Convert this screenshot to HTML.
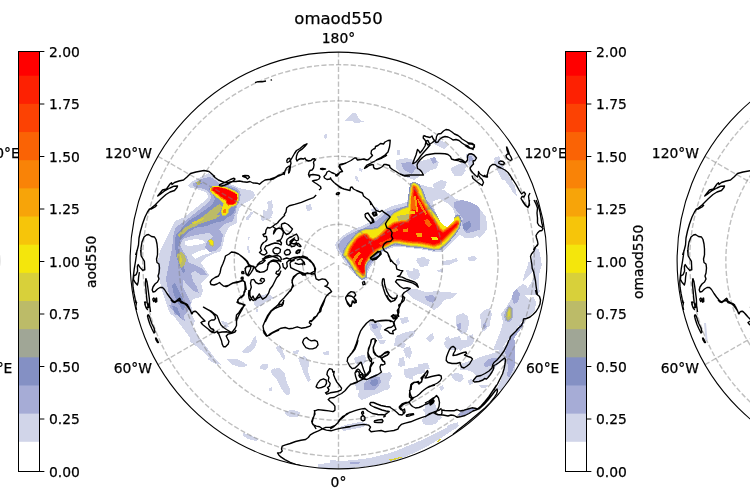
<!DOCTYPE html>
<html><head><meta charset="utf-8"><title>omaod550</title>
<style>
html,body{margin:0;padding:0;background:#fff;}
body{width:750px;height:500px;overflow:hidden;}
svg{display:block;}
.t10{font-family:"DejaVu Sans","Liberation Sans",sans-serif;font-size:13.89px;fill:#000;stroke:#000;stroke-width:0.25px;}
.t12{font-family:"DejaVu Sans","Liberation Sans",sans-serif;font-size:16.5px;fill:#000;stroke:#000;stroke-width:0.25px;}
</style></head><body>
<svg width="750" height="500" viewBox="0 0 750 500">
<rect width="750" height="500" fill="#fff"/>
<circle cx="-208.85" cy="260.5" r="208.4" fill="none" stroke="#000" stroke-width="1.11"/>
<text x="-22.5" y="158" class="t10">120°E</text>
<text x="-21.0" y="372.5" class="t10">60°E</text>
<text x="-395.0" y="158" text-anchor="end" class="t10">120°W</text>
<text x="-395.0" y="372.5" text-anchor="end" class="t10">60°W</text>
<text x="524.5" y="158" class="t10">120°E</text>
<text x="526" y="372.5" class="t10">60°E</text>
<text x="152" y="158" text-anchor="end" class="t10">120°W</text>
<text x="152" y="372.5" text-anchor="end" class="t10">60°W</text>
<text x="1071.5" y="158" class="t10">120°E</text>
<text x="1073.0" y="372.5" class="t10">60°E</text>
<text x="699.0" y="158" text-anchor="end" class="t10">120°W</text>
<text x="699.0" y="372.5" text-anchor="end" class="t10">60°W</text>
<text x="338.5" y="43.2" text-anchor="middle" class="t10">180°</text>
<text x="338.5" y="486.6" text-anchor="middle" class="t10">0°</text>
<text x="338.5" y="24" text-anchor="middle" class="t12">omaod550</text>
<clipPath id="clip0"><circle cx="338.5" cy="260.5" r="208.4"/></clipPath>
<g clip-path="url(#clip0)">
<g transform="translate(0,0)" shape-rendering="crispEdges">
<path d="M188.4,185.5 L192.4,181.4 L197.8,178.8 L203.2,176.1 L208.5,173.4 L212.5,174.7 L216.6,178.8 L220.6,182.8 L228.6,183.5 L234.0,185.5 L239.3,188.2 L246.0,189.5 L252.7,190.8 L255.4,194.9 L252.7,198.9 L247.4,201.6 L243.4,204.2 L239.3,208.3 L238.0,213.6 L234.0,217.6 L228.6,220.3 L223.3,223.0 L217.9,227.0 L175.0,227.0 L180.4,220.3 L187.1,215.0 L193.8,209.6 L200.5,204.2 L205.8,200.2 L208.5,196.2 L205.8,192.2 L200.5,190.2 L195.1,188.8 L189.7,187.5Z" fill="#d1d5e9"/>
<path d="M175.0,221.0 L185.0,217.0 L197.0,215.0 L237.0,215.0 L237.0,223.0 L229.0,227.0 L225.0,235.0 L223.0,245.0 L221.0,251.0 L215.0,253.0 L211.0,255.0 L205.0,258.0 L201.0,263.0 L205.0,269.0 L209.0,275.0 L205.0,279.0 L201.0,283.0 L203.0,291.0 L201.0,297.0 L193.0,299.0 L191.0,305.0 L193.0,311.0 L191.0,315.0 L171.0,315.0 L168.0,309.0 L165.0,299.0 L162.0,291.0 L160.0,281.0 L158.0,271.0 L158.0,261.0 L160.0,251.0 L164.0,243.0 L168.0,235.0 L172.0,227.0Z" fill="#d1d5e9"/>
<path d="M167.0,305.0 L185.0,305.0 L191.0,313.0 L195.0,321.0 L193.0,327.0 L199.0,337.0 L205.0,345.0 L211.0,353.0 L217.0,361.0 L221.0,365.0 L215.0,363.0 L209.0,358.0 L203.0,350.0 L197.0,345.0 L191.0,339.0 L185.0,331.0 L179.0,323.0 L173.0,315.0 L169.0,310.0Z" fill="#d1d5e9"/>
<path d="M243.0,351.0 L247.0,347.0 L253.0,341.0 L256.0,337.0 L257.0,342.0 L254.0,348.0 L248.0,353.0 L243.0,353.0Z" fill="#d1d5e9"/>
<path d="M227.0,359.0 L237.0,359.0 L245.0,363.0 L247.0,366.0 L239.0,367.0 L231.0,364.0Z" fill="#d1d5e9"/>
<path d="M260.0,366.0 L265.0,364.0 L269.0,367.0 L265.0,370.0 L261.0,369.0Z" fill="#d1d5e9"/>
<path d="M221.0,321.0 L227.0,322.0 L229.0,327.0 L225.0,328.0Z" fill="#d1d5e9"/>
<path d="M344.0,121.5 L348.0,118.0 L352.0,113.0 L356.0,112.5 L357.5,116.0 L360.0,120.0 L364.0,121.5 L360.0,122.5 L355.0,123.0 L351.0,120.5 L347.0,121.0Z" fill="#d1d5e9"/>
<path d="M397.0,149.5 L400.5,150.0 L400.0,155.0 L397.5,155.0Z" fill="#d1d5e9"/>
<path d="M324.0,135.0 L326.6,134.0 L326.6,138.0 L324.6,139.0Z" fill="#d1d5e9"/>
<path d="M417.0,162.0 L425.0,160.0 L433.0,158.0 L439.0,162.0 L437.0,168.0 L431.0,170.0 L425.0,174.0 L419.0,172.0Z" fill="#d1d5e9"/>
<path d="M451.0,168.0 L459.0,164.0 L465.0,162.0 L467.0,166.0 L463.0,171.0 L457.0,174.0 L452.0,173.0Z" fill="#d1d5e9"/>
<path d="M433.0,184.0 L441.0,180.0 L447.0,182.0 L445.0,188.0 L439.0,190.0 L434.0,189.0Z" fill="#d1d5e9"/>
<path d="M449.0,210.0 L455.0,206.0 L461.0,202.0 L469.0,204.0 L477.0,210.0 L482.0,218.0 L484.0,226.0 L481.0,234.0 L473.0,238.0 L465.0,238.0 L459.0,234.0 L461.0,226.0 L459.0,218.0 L453.0,216.0Z" fill="#d1d5e9"/>
<path d="M433.0,198.0 L441.0,196.0 L447.0,200.0 L443.0,205.0 L435.0,204.0Z" fill="#d1d5e9"/>
<path d="M497.0,158.0 L503.0,168.0 L509.0,176.0 L515.0,186.0 L517.0,196.0 L514.0,194.0 L509.0,186.0 L503.0,178.0 L498.0,170.0 L494.0,162.0Z" fill="#d1d5e9"/>
<path d="M433.0,141.0 L439.0,139.0 L444.0,142.0 L448.0,146.0 L444.0,149.0 L438.0,146.0 L434.0,144.0Z" fill="#d1d5e9"/>
<path d="M396.0,160.0 L406.0,158.0 L414.0,160.0 L420.0,166.0 L420.0,176.0 L414.0,180.0 L402.0,176.0 L396.0,168.0Z" fill="#d1d5e9"/>
<path d="M466.0,154.0 L472.0,153.0 L476.0,157.0 L474.0,164.0 L470.0,168.0 L467.0,162.0Z" fill="#d1d5e9"/>
<path d="M452.0,168.0 L460.0,166.0 L466.0,170.0 L462.0,176.0 L454.0,176.0Z" fill="#d1d5e9"/>
<path d="M494.0,158.0 L499.0,156.0 L502.0,164.0 L506.0,172.0 L510.0,180.0 L502.0,180.0 L497.0,170.0Z" fill="#d1d5e9"/>
<path d="M535.0,248.0 L539.0,249.0 L540.5,257.0 L541.8,265.0 L540.0,271.0 L538.5,278.0 L539.0,287.0 L540.0,292.0 L535.0,295.0 L517.0,295.0 L519.0,290.0 L525.0,285.0 L527.0,289.0 L531.0,283.0 L534.0,277.0 L532.5,272.0 L529.5,275.0 L525.0,279.0 L523.0,281.0 L524.0,275.0 L527.0,268.0 L528.5,262.0 L531.0,261.0 L533.0,255.0Z" fill="#d1d5e9"/>
<path d="M501.0,314.0 L507.0,306.0 L513.0,296.0 L517.0,288.0 L523.0,284.0 L527.0,286.0 L525.0,296.0 L529.0,300.0 L533.0,296.0 L536.0,302.0 L535.0,310.0 L529.0,316.0 L523.0,320.0 L517.0,328.0 L511.0,336.0 L505.0,344.0 L501.0,350.0 L493.0,350.0 L497.0,340.0 L501.0,330.0 L503.0,322.0Z" fill="#d1d5e9"/>
<path d="M480.0,314.0 L485.0,310.0 L490.0,308.0 L492.0,314.0 L490.0,322.0 L486.0,330.0 L482.0,332.0 L481.0,324.0Z" fill="#d1d5e9"/>
<path d="M456.0,316.0 L463.0,314.0 L468.0,316.0 L469.0,324.0 L467.0,332.0 L462.0,334.0 L458.0,330.0 L456.6,323.0Z" fill="#d1d5e9"/>
<path d="M425.0,293.0 L435.0,291.0 L445.0,292.0 L457.0,293.0 L453.0,298.0 L443.0,300.0 L439.0,306.0 L431.0,307.0 L427.0,302.0 L423.0,298.0Z" fill="#d1d5e9"/>
<path d="M417.0,258.0 L425.0,257.0 L427.0,262.0 L421.0,264.0 L417.0,262.0Z" fill="#d1d5e9"/>
<path d="M413.0,268.0 L419.0,270.0 L420.0,276.0 L415.0,280.0 L413.0,278.0Z" fill="#d1d5e9"/>
<path d="M437.0,270.0 L443.0,269.0 L443.0,272.0 L438.0,272.4Z" fill="#d1d5e9"/>
<path d="M447.0,261.0 L457.0,258.0 L458.0,261.0 L449.0,264.0Z" fill="#d1d5e9"/>
<path d="M445.0,338.0 L449.0,336.0 L451.0,342.0 L447.0,344.0Z" fill="#d1d5e9"/>
<path d="M428.0,336.0 L433.0,333.0 L434.0,338.0 L430.0,342.0Z" fill="#d1d5e9"/>
<path d="M467.0,336.0 L473.0,334.0 L474.0,342.0 L469.0,344.0Z" fill="#d1d5e9"/>
<path d="M444.0,343.0 L450.0,341.0 L458.0,340.0 L470.0,340.0 L473.0,343.0 L470.0,346.0 L464.0,348.0 L460.0,351.0 L455.0,346.0 L450.0,345.0 L446.0,346.0Z" fill="#d1d5e9"/>
<path d="M465.0,368.0 L470.0,364.0 L474.0,360.0 L480.0,357.0 L487.0,355.0 L494.0,353.0 L500.0,350.0 L505.0,346.0 L509.0,340.0 L515.0,340.0 L515.0,370.0 L510.0,378.0 L506.0,385.0 L502.0,390.0 L496.0,390.0 L500.0,382.0 L504.0,372.0 L505.0,362.0 L502.0,361.0 L497.0,365.0 L494.0,370.0 L490.0,375.0 L484.0,380.0 L478.0,382.0 L473.0,380.0 L476.0,376.0 L473.0,372.0 L468.0,371.0Z" fill="#d1d5e9"/>
<path d="M451.0,374.0 L456.0,373.0 L462.0,374.0 L464.0,379.0 L460.0,382.0 L455.0,381.0 L452.0,378.0Z" fill="#d1d5e9"/>
<path d="M468.0,380.0 L472.0,379.0 L473.0,384.0 L469.0,385.0Z" fill="#d1d5e9"/>
<path d="M425.0,404.0 L431.0,401.0 L435.0,403.0 L437.0,410.0 L435.0,415.0 L440.0,418.0 L437.0,423.0 L431.0,425.0 L425.0,425.0Z" fill="#d1d5e9"/>
<path d="M439.0,387.0 L443.0,385.0 L444.0,389.0 L441.0,391.0Z" fill="#d1d5e9"/>
<path d="M479.0,385.0 L489.0,385.0 L485.0,388.0 L481.0,388.0Z" fill="#d1d5e9"/>
<path d="M448.0,425.0 L455.0,423.0 L459.0,425.0 L455.0,429.0 L450.0,432.0 L445.0,433.0Z" fill="#d1d5e9"/>
<path d="M406.0,288.0 L416.0,289.0 L426.0,292.0 L436.0,293.0 L448.0,293.0 L457.0,294.0 L452.0,298.0 L444.0,300.0 L440.0,306.0 L434.0,310.0 L428.0,306.0 L420.0,302.0 L412.0,298.0 L407.0,293.0Z" fill="#d1d5e9"/>
<path d="M406.0,270.0 L416.0,272.0 L419.0,278.0 L414.0,280.0 L408.0,277.0Z" fill="#d1d5e9"/>
<path d="M369.0,322.0 L378.0,321.0 L382.0,326.0 L380.0,332.0 L383.0,338.0 L378.0,340.0 L374.0,334.0 L370.0,329.0Z" fill="#d1d5e9"/>
<path d="M400.0,318.0 L408.0,317.0 L409.0,322.0 L402.0,324.0Z" fill="#d1d5e9"/>
<path d="M396.0,336.0 L406.0,332.0 L416.0,330.0 L414.0,336.0 L406.0,340.0 L400.0,346.0 L394.0,346.0Z" fill="#d1d5e9"/>
<path d="M457.0,315.0 L464.0,313.0 L468.0,318.0 L467.0,328.0 L462.0,334.0 L457.0,330.0 L456.0,322.0Z" fill="#d1d5e9"/>
<path d="M444.0,342.0 L452.0,338.0 L460.0,336.0 L462.0,344.0 L458.0,350.0 L450.0,350.0 L445.0,347.0Z" fill="#d1d5e9"/>
<path d="M426.0,338.0 L432.0,334.0 L434.0,337.0 L429.0,342.0Z" fill="#d1d5e9"/>
<path d="M404.0,348.0 L410.0,346.0 L411.0,356.0 L406.0,358.0Z" fill="#d1d5e9"/>
<path d="M468.0,336.0 L472.0,338.0 L470.0,343.0 L467.0,341.0Z" fill="#d1d5e9"/>
<path d="M480.0,318.0 L486.0,310.0 L490.0,308.0 L490.0,326.0 L484.0,328.0Z" fill="#d1d5e9"/>
<path d="M399.0,359.0 L404.0,358.0 L405.0,366.0 L400.0,366.0Z" fill="#d1d5e9"/>
<path d="M460.0,364.0 L472.0,360.0 L484.0,358.0 L490.0,360.0 L490.0,370.0 L460.0,370.0Z" fill="#d1d5e9"/>
<path d="M354.0,358.0 L362.0,355.0 L366.0,358.0 L362.0,364.0 L356.0,364.0Z" fill="#d1d5e9"/>
<path d="M418.0,364.0 L428.0,363.0 L430.0,369.0 L420.0,370.0Z" fill="#d1d5e9"/>
<path d="M354.0,385.0 L361.0,380.0 L369.0,378.0 L377.0,374.0 L385.0,373.0 L391.0,374.0 L389.0,382.0 L385.0,390.0 L379.0,393.0 L373.0,395.0 L367.0,398.0 L361.0,400.0 L358.0,396.0 L359.0,390.0Z" fill="#d1d5e9"/>
<path d="M359.0,358.0 L365.0,356.0 L367.0,361.0 L362.0,365.0 L358.0,362.0Z" fill="#d1d5e9"/>
<path d="M298.0,358.0 L305.0,356.0 L309.0,362.0 L308.0,372.0 L311.0,380.0 L308.0,382.0 L304.0,374.0 L301.0,366.0Z" fill="#d1d5e9"/>
<path d="M272.0,369.0 L279.0,368.0 L285.0,374.0 L287.0,384.0 L290.0,392.0 L286.0,395.0 L281.0,388.0 L277.0,380.0 L273.0,374.0Z" fill="#d1d5e9"/>
<path d="M279.0,350.0 L283.0,350.0 L284.0,356.0 L281.0,357.0Z" fill="#d1d5e9"/>
<path d="M293.0,351.0 L299.0,350.0 L298.0,354.0 L294.0,354.0Z" fill="#d1d5e9"/>
<path d="M263.0,364.0 L268.0,365.0 L267.0,369.0 L263.0,369.0Z" fill="#d1d5e9"/>
<path d="M269.0,388.0 L272.0,387.0 L272.0,391.0 L269.0,391.0Z" fill="#d1d5e9"/>
<path d="M285.0,411.0 L293.0,410.0 L300.0,412.0 L298.0,416.0 L290.0,416.0Z" fill="#d1d5e9"/>
<path d="M339.0,427.0 L349.0,424.0 L359.0,422.0 L367.0,423.0 L363.0,427.0 L353.0,429.0 L343.0,431.0Z" fill="#d1d5e9"/>
<path d="M399.0,358.0 L404.0,357.0 L405.0,365.0 L401.0,367.0Z" fill="#d1d5e9"/>
<path d="M405.0,370.0 L413.0,368.0 L413.0,380.0 L407.0,378.0Z" fill="#d1d5e9"/>
<path d="M323.0,352.0 L329.0,351.0 L329.0,355.0 L324.0,355.0Z" fill="#d1d5e9"/>
<path d="M330.0,460.0 L342.0,461.0 L354.0,460.0 L370.0,458.0 L386.0,454.0 L398.0,450.0 L410.0,445.0 L422.0,440.0 L434.0,434.0 L446.0,428.0 L458.0,422.0 L458.0,425.0 L450.0,432.0 L438.0,440.0 L426.0,447.0 L414.0,453.0 L400.0,459.0 L386.0,463.0 L370.0,466.0 L350.0,468.0 L330.0,468.0Z" fill="#d1d5e9"/>
<path d="M422.0,419.0 L430.0,415.0 L438.0,414.0 L442.0,418.0 L436.0,422.0 L428.0,425.0 L423.0,424.0Z" fill="#d1d5e9"/>
<path d="M422.0,410.0 L430.0,406.0 L432.0,410.0 L426.0,413.0Z" fill="#d1d5e9"/>
<path d="M318.0,464.0 L330.0,463.0 L330.0,468.0 L318.0,467.6Z" fill="#d1d5e9"/>
<path d="M285.0,411.0 L292.0,410.0 L300.0,413.0 L298.0,417.0 L290.0,417.0 L285.0,414.0Z" fill="#d1d5e9"/>
<path d="M243.0,433.0 L250.0,435.0 L258.0,439.0 L256.0,441.0 L248.0,439.0 L243.6,436.0Z" fill="#d1d5e9"/>
<path d="M278.0,380.0 L286.0,380.0 L290.0,390.0 L289.0,395.0 L285.0,394.0 L282.0,386.0Z" fill="#d1d5e9"/>
<path d="M253.8,301.9 L257.2,297.9 L261.9,295.2 L267.9,293.9 L274.6,297.9 L270.6,299.9 L265.2,301.9 L261.2,305.9 L256.5,307.3 L254.5,305.3Z" fill="#d1d5e9"/>
<path d="M255.8,309.3 L257.8,308.6 L258.2,312.0 L256.1,312.4Z" fill="#d1d5e9"/>
<path d="M242.3,351.4 L246.3,347.4 L251.0,343.4 L253.7,338.0 L255.7,336.0 L256.4,340.7 L255.7,346.1 L253.0,350.1 L247.6,353.5 L243.6,353.1Z" fill="#d1d5e9"/>
<path d="M226.2,359.2 L231.6,358.8 L238.3,359.5 L243.6,362.2 L247.0,364.9 L243.6,367.3 L238.3,366.9 L232.9,363.5 L228.9,360.8Z" fill="#d1d5e9"/>
<path d="M259.7,366.2 L263.1,363.5 L267.7,364.2 L268.4,367.5 L264.4,369.5 L260.4,368.9Z" fill="#d1d5e9"/>
<path d="M190.0,338.0 L194.0,340.7 L200.7,346.1 L207.4,351.4 L210.1,355.5 L206.1,354.1 L199.4,348.8 L192.7,343.4 L190.0,341.4Z" fill="#d1d5e9"/>
<path d="M207.4,357.5 L211.4,358.8 L216.8,362.2 L220.8,364.2 L216.8,364.6 L211.4,361.5 L208.1,359.5Z" fill="#d1d5e9"/>
<path d="M275.8,347.4 L279.8,344.7 L282.5,350.1 L285.2,356.8 L283.8,360.8 L281.2,355.5 L277.8,351.4Z" fill="#d1d5e9"/>
<path d="M271.1,370.2 L274.5,368.2 L278.5,371.6 L282.5,376.9 L286.5,383.6 L289.9,389.0 L289.9,394.3 L285.2,390.3 L281.2,383.6 L275.8,378.3 L271.8,374.2Z" fill="#d1d5e9"/>
<path d="M269.1,388.3 L271.1,387.6 L271.5,391.0 L269.8,391.7Z" fill="#d1d5e9"/>
<path d="M261.2,216.4 L265.2,213.8 L267.9,208.4 L269.2,201.7 L271.2,200.4 L272.6,204.4 L271.9,209.7 L273.3,213.1 L270.6,217.1 L266.6,219.8 L262.5,221.1 L260.5,219.8Z" fill="#d1d5e9"/>
<path d="M245.1,219.1 L250.5,212.4 L253.8,211.1 L251.8,215.1 L247.8,220.5Z" fill="#d1d5e9"/>
<path d="M306.1,205.1 L310.8,204.4 L312.1,208.4 L308.8,211.8 L306.5,209.1Z" fill="#d1d5e9"/>
<path d="M247.1,237.9 L249.8,236.6 L249.1,240.6Z" fill="#d1d5e9"/>
<path d="M247.1,246.6 L249.1,245.9 L249.8,252.6 L247.8,252.6Z" fill="#d1d5e9"/>
<path d="M267.0,202.0 L272.0,200.0 L273.0,208.0 L269.0,210.0Z" fill="#d1d5e9"/>
<path d="M306.0,205.0 L311.0,204.0 L312.0,210.0 L307.0,211.0Z" fill="#d1d5e9"/>
<path d="M263.0,210.0 L269.0,212.0 L272.0,218.0 L267.0,219.0 L263.0,216.0Z" fill="#d1d5e9"/>
<path d="M359.0,168.0 L363.0,169.0 L362.0,172.0 L359.0,171.0Z" fill="#d1d5e9"/>
<path d="M355.0,176.0 L358.0,177.0 L359.0,182.0 L356.0,181.0Z" fill="#d1d5e9"/>
<path d="M356.0,360.0 L361.0,356.0 L365.0,355.0 L366.0,360.0 L362.0,363.0 L357.0,364.0Z" fill="#d1d5e9"/>
<path d="M378.0,340.0 L386.0,340.0 L384.0,344.0 L380.0,344.0Z" fill="#d1d5e9"/>
<path d="M394.0,344.0 L402.0,341.0 L406.0,344.0 L404.0,348.0 L398.0,347.0Z" fill="#d1d5e9"/>
<path d="M403.0,350.0 L410.0,346.0 L412.0,352.0 L410.0,359.0 L407.0,357.0Z" fill="#d1d5e9"/>
<path d="M399.0,360.0 L403.0,358.0 L404.0,362.0 L401.0,367.0 L398.0,366.0Z" fill="#d1d5e9"/>
<path d="M404.5,369.0 L412.0,368.0 L420.0,366.0 L425.0,367.0 L425.0,373.0 L418.0,374.0 L412.0,377.0 L406.0,378.0 L404.0,374.0Z" fill="#d1d5e9"/>
<path d="M355.0,382.0 L363.0,380.0 L370.0,377.0 L376.0,374.0 L383.0,374.0 L390.0,372.0 L392.0,376.0 L389.0,382.0 L390.0,387.0 L388.0,390.0 L356.0,390.0Z" fill="#d1d5e9"/>
<path d="M335.0,245.0 L337.0,250.0 L341.0,256.0 L346.0,264.0 L352.0,272.0 L358.0,278.0 L364.0,281.0 L368.0,279.0 L367.0,274.0 L370.0,268.0 L374.0,262.0 L378.0,256.0 L382.0,252.0 L388.0,249.0 L394.0,247.0 L402.0,247.0 L410.0,248.0 L418.0,249.0 L426.0,250.0 L434.0,252.0 L442.0,252.0 L446.0,248.0 L452.0,242.0 L458.0,236.0 L464.0,232.0 L468.0,235.0 L474.0,233.0 L480.0,238.0 L487.4,229.0 L486.0,217.0 L477.0,205.0 L465.0,202.0 L456.0,199.0 L444.0,190.0 L429.0,187.0 L414.0,182.6 L411.0,190.0 L409.0,194.0 L407.0,202.0 L400.0,204.0 L392.0,206.0 L384.0,210.0 L378.0,216.0 L370.0,222.0 L362.0,226.0 L352.0,230.0 L344.0,235.0 L338.0,240.0 L335.0,245.0Z" fill="#d1d5e9"/>
<path d="M416.0,260.0 L424.0,258.0 L430.0,260.0 L428.0,266.0 L420.0,267.0Z" fill="#d1d5e9"/>
<path d="M396.0,260.0 L399.0,258.0 L400.0,264.0 L397.0,266.0Z" fill="#d1d5e9"/>
<path d="M442.0,261.0 L450.0,260.0 L453.0,263.0 L448.0,265.6 L442.4,264.4Z" fill="#d1d5e9"/>
<path d="M468.0,257.0 L474.0,256.0 L477.0,259.0 L473.0,261.6 L468.4,260.4Z" fill="#d1d5e9"/>
<path d="M370.0,210.0 L376.0,207.0 L380.0,210.0 L375.0,214.0Z" fill="#d1d5e9"/>
<path d="M185.0,241.0 L195.0,239.0 L203.0,240.0 L205.0,243.0 L197.0,245.0 L189.0,246.0 L185.0,245.0Z" fill="#ffffff"/>
<path d="M191.0,255.0 L199.0,251.0 L207.0,249.0 L213.0,249.0 L211.0,253.0 L203.0,255.0 L195.0,259.0Z" fill="#ffffff"/>
<path d="M192.4,184.1 L197.8,180.8 L204.5,178.1 L209.9,176.8 L215.2,180.1 L219.2,184.1 L228.6,185.5 L235.3,187.5 L239.3,190.2 L240.7,194.9 L239.3,201.6 L236.7,206.9 L235.3,213.6 L231.3,217.0 L225.9,219.0 L220.6,221.7 L215.2,225.7 L212.5,227.0 L179.0,227.0 L184.4,221.7 L191.1,216.3 L197.8,210.9 L204.5,205.6 L209.9,200.9 L211.2,196.2 L208.5,191.5 L203.2,188.8 L196.4,187.5 L193.1,186.1Z" fill="#a6acd6"/>
<path d="M176.0,227.0 L185.0,221.0 L197.0,217.0 L209.0,215.0 L235.0,215.0 L233.0,221.0 L225.0,224.0 L219.0,229.0 L223.0,235.0 L221.0,245.0 L215.0,251.0 L209.0,252.0 L205.0,248.0 L207.0,241.0 L213.0,237.0 L209.0,233.0 L201.0,234.0 L191.0,236.0 L183.0,239.0 L180.0,245.0 L183.0,251.0 L187.0,257.0 L189.0,263.0 L195.0,265.0 L203.0,269.0 L207.0,275.0 L201.0,275.0 L195.0,271.0 L191.0,273.0 L193.0,281.0 L197.0,287.0 L199.0,293.0 L193.0,291.0 L187.0,285.0 L183.0,279.0 L183.0,287.0 L187.0,295.0 L191.0,303.0 L189.0,309.0 L185.0,315.0 L175.0,315.0 L172.0,307.0 L170.0,299.0 L168.0,289.0 L166.0,279.0 L168.0,269.0 L170.0,259.0 L172.0,249.0 L173.0,239.0 L174.0,232.0Z" fill="#a6acd6"/>
<path d="M169.0,305.0 L179.0,305.0 L183.0,313.0 L185.0,321.0 L181.0,319.0 L175.0,313.0 L171.0,309.0Z" fill="#a6acd6"/>
<path d="M456.0,210.0 L463.0,207.0 L471.0,210.0 L477.0,218.0 L479.0,226.0 L473.0,232.0 L466.0,233.0 L463.0,228.0 L464.0,220.0 L460.0,215.0Z" fill="#a6acd6"/>
<path d="M401.0,163.0 L410.0,162.0 L416.0,168.0 L412.0,174.0 L404.0,170.0Z" fill="#a6acd6"/>
<path d="M468.0,156.0 L472.0,155.6 L473.0,160.0 L469.6,162.0Z" fill="#a6acd6"/>
<path d="M430.0,158.0 L435.0,157.0 L437.0,162.0 L433.0,164.0Z" fill="#a6acd6"/>
<path d="M513.0,292.0 L517.0,289.0 L520.0,294.0 L518.0,302.0 L514.0,304.0 L512.0,298.0Z" fill="#a6acd6"/>
<path d="M507.0,344.0 L513.0,334.0 L519.0,326.0 L522.0,322.0 L525.0,320.0 L523.0,326.0 L517.0,334.0 L512.0,342.0 L508.0,350.0 L504.0,350.0Z" fill="#a6acd6"/>
<path d="M483.0,324.0 L486.0,322.0 L486.6,327.0 L484.0,329.0Z" fill="#a6acd6"/>
<path d="M458.0,324.0 L461.0,323.0 L461.4,329.0 L458.6,329.0Z" fill="#a6acd6"/>
<path d="M425.0,296.0 L432.0,295.0 L435.0,299.0 L431.0,302.4 L426.0,300.0Z" fill="#a6acd6"/>
<path d="M504.0,315.0 L507.0,308.0 L509.4,305.0 L512.6,308.0 L513.4,314.0 L512.0,320.0 L508.6,322.4 L505.0,320.4Z" fill="#a6acd6"/>
<path d="M484.0,363.0 L487.0,360.0 L492.0,358.0 L496.0,357.5 L497.5,359.5 L494.0,363.0 L490.0,366.0 L486.0,367.0 L484.0,365.5Z" fill="#a6acd6"/>
<path d="M505.0,352.0 L510.0,340.0 L515.0,340.0 L515.0,365.0 L512.0,372.0 L509.0,378.0 L507.0,376.0 L508.0,368.0 L507.0,360.0Z" fill="#a6acd6"/>
<path d="M461.0,411.2 L465.0,410.0 L469.0,409.0 L473.0,408.0 L475.5,408.8 L472.0,411.2 L468.0,413.5 L464.0,415.2 L460.0,416.2 L458.0,415.0Z" fill="#a6acd6"/>
<path d="M425.0,296.0 L432.0,295.0 L436.0,299.0 L433.0,303.0 L427.0,301.0Z" fill="#a6acd6"/>
<path d="M371.0,324.0 L377.0,323.6 L378.0,328.0 L373.0,329.0Z" fill="#a6acd6"/>
<path d="M457.0,324.0 L460.0,323.0 L461.0,329.0 L458.0,330.0Z" fill="#a6acd6"/>
<path d="M365.0,382.0 L373.0,378.0 L380.0,377.0 L381.0,382.0 L377.0,387.0 L370.0,389.0 L365.0,387.0Z" fill="#a6acd6"/>
<path d="M350.0,462.0 L360.0,462.0 L358.0,464.4 L350.0,464.4Z" fill="#a6acd6"/>
<path d="M364.0,383.0 L370.0,379.0 L375.0,376.0 L380.0,378.0 L380.0,383.0 L378.0,387.0 L374.0,390.0 L364.0,390.0Z" fill="#a6acd6"/>
<path d="M338.0,245.0 L339.0,249.0 L342.0,254.0 L347.0,262.0 L353.0,270.0 L358.0,276.0 L363.0,279.4 L366.4,278.0 L366.0,273.0 L369.0,267.0 L373.0,261.0 L377.0,255.0 L381.0,251.0 L388.0,247.6 L394.0,245.6 L402.0,245.6 L410.0,246.6 L418.0,247.6 L426.0,248.4 L434.0,250.0 L441.0,250.0 L446.0,245.0 L451.0,239.0 L456.0,232.0 L460.0,225.0 L461.0,218.0 L458.0,214.0 L454.0,216.0 L450.0,220.0 L444.0,222.0 L439.0,216.0 L434.0,210.0 L430.0,204.0 L425.0,198.0 L423.6,191.0 L420.0,185.0 L415.0,182.0 L411.6,183.2 L410.4,188.0 L409.6,196.0 L408.0,205.0 L402.0,207.0 L394.0,209.0 L386.0,212.0 L380.0,218.0 L372.0,224.0 L364.0,228.0 L356.0,231.0 L348.0,235.0 L342.0,239.0 L338.0,245.0Z" fill="#a6acd6"/>
<path d="M454.0,202.0 L462.0,200.0 L470.0,202.0 L478.0,206.0 L480.0,210.0 L480.0,230.0 L473.0,231.0 L468.0,233.0 L464.0,230.0 L462.0,224.0 L463.0,216.0 L458.0,212.0 L454.0,208.0Z" fill="#a6acd6"/>
<path d="M195.1,182.8 L200.5,180.8 L201.8,183.5 L197.8,185.5Z" fill="#8490c4"/>
<path d="M209.2,188.2 L211.9,186.1 L219.2,185.5 L228.6,186.8 L236.7,190.2 L239.1,193.5 L238.7,200.2 L236.0,206.2 L234.0,212.9 L230.0,216.3 L224.6,217.6 L219.2,220.3 L213.9,223.0 L207.2,225.7 L201.8,227.0 L183.0,227.0 L189.7,220.3 L197.8,215.0 L205.8,209.6 L212.5,204.2 L215.2,198.9 L212.5,193.5 L209.2,190.2Z" fill="#8490c4"/>
<path d="M177.0,233.0 L183.0,227.0 L193.0,222.0 L205.0,218.0 L213.0,215.0 L229.0,215.0 L223.0,221.0 L213.0,223.0 L205.0,225.0 L195.0,228.0 L187.0,233.0 L181.0,239.0 L178.0,247.0 L180.0,255.0 L183.0,263.0 L185.0,271.0 L183.0,273.0 L179.0,265.0 L176.0,255.0 L175.0,245.0 L175.4,237.0Z" fill="#8490c4"/>
<path d="M172.0,285.0 L175.0,283.0 L179.0,291.0 L183.0,299.0 L185.0,307.0 L183.0,311.0 L178.0,303.0 L174.0,295.0Z" fill="#8490c4"/>
<path d="M172.0,306.0 L177.0,307.0 L180.0,314.0 L181.0,319.0 L177.0,315.0 L174.0,311.0Z" fill="#8490c4"/>
<path d="M463.0,224.0 L467.0,222.0 L470.0,227.0 L467.0,231.0 L463.4,229.0Z" fill="#8490c4"/>
<path d="M371.0,380.0 L377.0,379.0 L378.0,383.0 L373.0,386.0 L370.0,384.0Z" fill="#8490c4"/>
<path d="M371.0,382.0 L375.0,378.5 L378.5,380.0 L378.0,384.0 L375.0,386.5 L372.0,386.0Z" fill="#8490c4"/>
<path d="M342.3,254.3 L342.2,254.5 L342.2,254.8 L342.2,255.0 L342.2,255.2 L342.2,255.4 L342.3,255.6 L342.4,255.8 L342.5,256.0 L342.6,256.2 L342.7,256.4 L342.8,256.6 L344.8,258.5 L348.2,262.3 L352.1,269.1 L352.2,269.2 L356.2,275.2 L356.3,275.4 L356.4,275.5 L356.6,275.7 L360.6,279.1 L360.7,279.2 L360.9,279.3 L361.1,279.4 L361.3,279.5 L361.5,279.5 L361.7,279.6 L361.9,279.6 L362.1,279.6 L362.3,279.6 L362.5,279.5 L362.7,279.5 L362.9,279.4 L365.9,278.0 L366.1,277.9 L366.3,277.8 L366.5,277.7 L366.6,277.5 L366.7,277.3 L366.9,277.2 L367.0,277.0 L367.0,276.8 L367.1,276.6 L367.2,276.4 L367.2,276.2 L367.2,276.0 L367.2,275.8 L366.6,269.9 L366.6,266.2 L368.8,262.3 L376.4,254.7 L380.2,251.9 L395.3,244.3 L409.6,247.2 L409.9,247.2 L418.7,247.8 L426.6,249.2 L433.6,250.6 L433.8,250.6 L434.0,250.6 L434.2,250.6 L439.2,250.2 L439.4,250.2 L439.6,250.1 L439.8,250.0 L440.0,250.0 L440.2,249.8 L440.4,249.7 L445.4,245.7 L445.6,245.6 L450.6,240.6 L450.7,240.4 L455.7,234.4 L455.8,234.2 L459.8,228.2 L460.0,228.0 L460.1,227.8 L460.1,227.6 L461.7,221.6 L461.8,221.4 L461.8,221.2 L461.8,221.0 L461.8,220.8 L461.8,220.6 L461.7,220.4 L461.6,220.2 L460.0,216.2 L460.0,216.0 L459.8,215.8 L459.7,215.6 L459.6,215.5 L459.4,215.3 L459.3,215.2 L459.1,215.1 L458.9,215.0 L458.7,214.9 L458.5,214.9 L458.3,214.8 L458.1,214.8 L457.8,214.8 L457.6,214.8 L457.4,214.9 L457.2,214.9 L457.0,215.0 L453.0,217.0 L452.8,217.1 L452.6,217.3 L452.4,217.4 L448.6,221.3 L445.2,223.3 L441.5,220.4 L431.8,208.7 L427.9,202.9 L425.1,196.2 L423.1,190.3 L423.0,190.1 L422.9,189.9 L419.9,184.9 L419.8,184.7 L419.6,184.5 L419.5,184.4 L419.3,184.2 L419.1,184.1 L415.1,181.7 L414.9,181.6 L414.8,181.5 L414.5,181.5 L414.3,181.4 L414.1,181.4 L413.9,181.4 L413.7,181.4 L413.5,181.5 L413.3,181.5 L413.1,181.6 L412.9,181.7 L412.7,181.8 L410.7,183.2 L410.6,183.3 L410.4,183.5 L410.3,183.7 L410.1,183.8 L410.0,184.0 L409.9,184.3 L409.9,184.5 L409.8,184.7 L408.8,191.7 L408.8,191.7 L407.8,199.7 L407.0,206.0 L401.3,207.9 L401.0,208.0 L394.0,211.6 L393.8,211.7 L393.7,211.8 L393.5,211.9 L388.5,216.3 L388.4,216.4 L380.6,224.3 L377.1,226.9 L372.8,227.8 L367.0,227.8 L366.8,227.8 L366.6,227.8 L366.4,227.9 L361.4,229.3 L361.2,229.3 L361.0,229.4 L360.9,229.5 L360.7,229.6 L355.7,233.2 L355.6,233.3 L355.4,233.5 L355.3,233.6 L347.3,243.6 L347.1,243.9 L344.1,248.9 L344.0,249.1 L343.9,249.3 L342.3,254.3Z" fill="#8490c4"/>
<path d="M466.0,222.0 L470.0,221.0 L471.6,226.0 L469.0,229.0 L466.0,227.0Z" fill="#8490c4"/>
<path d="M505.4,316.0 L507.0,310.4 L509.0,306.4 L511.4,307.8 L512.4,313.2 L511.4,318.4 L508.6,321.0 L506.2,320.0Z" fill="#a0a696"/>
<path d="M343.0,254.5 L342.9,254.7 L342.9,254.8 L342.9,255.0 L342.9,255.1 L342.9,255.3 L343.0,255.4 L343.0,255.6 L343.1,255.7 L343.2,255.8 L343.2,255.9 L343.3,256.1 L345.3,258.0 L348.8,261.9 L352.7,268.7 L352.8,268.8 L356.8,274.8 L356.8,274.9 L356.9,275.0 L357.0,275.1 L361.0,278.5 L361.1,278.6 L361.3,278.7 L361.4,278.8 L361.5,278.8 L361.7,278.9 L361.8,278.9 L361.9,278.9 L362.1,278.9 L362.2,278.9 L362.4,278.9 L362.5,278.8 L362.6,278.8 L365.6,277.4 L365.8,277.3 L365.9,277.2 L366.0,277.1 L366.1,277.0 L366.2,276.9 L366.3,276.8 L366.3,276.7 L366.4,276.5 L366.4,276.4 L366.5,276.3 L366.5,276.1 L366.5,276.0 L366.5,275.9 L365.9,269.9 L365.9,266.0 L368.2,261.9 L376.0,254.1 L379.8,251.3 L395.2,243.6 L409.7,246.5 L409.9,246.5 L418.8,247.1 L426.7,248.5 L433.7,249.9 L433.8,249.9 L434.0,249.9 L434.1,249.9 L439.1,249.5 L439.3,249.5 L439.4,249.4 L439.6,249.4 L439.7,249.3 L439.8,249.3 L439.9,249.2 L444.9,245.2 L445.1,245.1 L450.1,240.1 L450.2,240.0 L455.2,234.0 L455.2,233.8 L459.2,227.8 L459.3,227.7 L459.4,227.5 L459.4,227.4 L461.0,221.4 L461.1,221.3 L461.1,221.1 L461.1,221.0 L461.1,220.8 L461.1,220.7 L461.0,220.6 L461.0,220.4 L459.4,216.4 L459.3,216.3 L459.3,216.2 L459.2,216.1 L459.1,216.0 L459.0,215.9 L458.9,215.8 L458.7,215.7 L458.6,215.6 L458.5,215.6 L458.3,215.5 L458.2,215.5 L458.0,215.5 L457.9,215.5 L457.7,215.5 L457.6,215.6 L457.5,215.6 L457.3,215.7 L453.3,217.7 L453.2,217.7 L453.1,217.8 L452.9,217.9 L449.1,221.8 L445.1,224.2 L441.1,220.9 L431.2,209.1 L427.3,203.3 L424.4,196.5 L422.4,190.5 L422.4,190.4 L422.3,190.2 L419.3,185.2 L419.2,185.1 L419.1,185.0 L419.0,184.9 L418.9,184.8 L418.8,184.7 L414.8,182.3 L414.6,182.2 L414.5,182.2 L414.4,182.1 L414.2,182.1 L414.1,182.1 L413.9,182.1 L413.8,182.1 L413.7,182.1 L413.5,182.2 L413.4,182.2 L413.3,182.3 L413.1,182.4 L411.1,183.8 L411.0,183.9 L410.9,184.0 L410.8,184.1 L410.7,184.2 L410.6,184.3 L410.6,184.5 L410.5,184.6 L410.5,184.8 L409.5,191.8 L409.5,191.8 L408.5,199.8 L407.6,206.5 L401.5,208.6 L401.3,208.7 L394.3,212.3 L394.2,212.3 L394.1,212.4 L394.0,212.5 L389.0,216.9 L388.9,216.9 L381.0,224.9 L377.4,227.6 L372.9,228.5 L367.0,228.5 L366.9,228.5 L366.7,228.5 L366.6,228.6 L361.6,230.0 L361.5,230.0 L361.3,230.0 L361.2,230.1 L361.1,230.2 L356.1,233.8 L356.0,233.9 L355.9,234.0 L355.8,234.1 L347.8,244.1 L347.7,244.2 L344.7,249.2 L344.6,249.4 L344.6,249.5 L343.0,254.5Z" fill="#a0a696"/>
<path d="M187.1,227.0 L195.1,221.7 L203.2,216.3 L209.9,210.9 L215.2,206.9 L219.2,204.2 L221.9,206.9 L219.2,212.3 L215.2,216.3 L209.9,219.0 L203.2,221.7 L196.4,225.7 L193.8,227.0Z" fill="#bcbb68"/>
<path d="M196.4,182.1 L199.1,180.8 L201.1,182.1 L199.8,184.8 L197.1,184.8Z" fill="#bcbb68"/>
<path d="M209.6,188.7 L212.3,185.7 L219.2,185.6 L226.2,186.9 L234.5,190.4 L238.5,193.4 L238.8,199.8 L236.4,205.6 L232.4,206.9 L229.2,208.9 L228.5,212.8 L226.3,215.5 L222.2,215.5 L220.7,211.6 L222.1,206.9 L223.3,203.2 L220.2,200.6 L216.2,197.3 L212.1,193.9 L209.6,191.1Z" fill="#bcbb68"/>
<path d="M178.0,234.0 L183.0,229.0 L191.0,224.0 L199.0,220.0 L207.0,217.0 L215.0,215.0 L221.0,215.0 L215.0,219.0 L205.0,222.0 L197.0,225.0 L189.0,229.0 L183.0,234.0 L179.0,237.0Z" fill="#bcbb68"/>
<path d="M177.4,254.0 L181.0,252.0 L185.0,255.0 L186.0,261.0 L184.0,266.0 L181.0,268.0 L179.0,263.0 L177.4,258.0Z" fill="#bcbb68"/>
<path d="M208.0,240.0 L212.0,239.0 L214.6,243.0 L213.0,247.0 L210.0,246.0Z" fill="#bcbb68"/>
<path d="M506.4,316.0 L507.6,311.4 L509.0,308.0 L510.6,308.8 L511.4,313.0 L510.6,317.6 L508.6,319.6 L507.0,319.0Z" fill="#bcbb68"/>
<path d="M343.4,254.7 L343.4,254.8 L343.4,254.9 L343.4,255.0 L343.4,255.1 L343.4,255.2 L343.4,255.3 L343.5,255.4 L343.5,255.5 L343.6,255.6 L343.6,255.6 L343.7,255.7 L345.7,257.7 L349.2,261.6 L353.1,268.5 L353.2,268.6 L357.2,274.6 L357.2,274.6 L357.3,274.7 L357.4,274.8 L361.4,278.2 L361.4,278.2 L361.5,278.3 L361.6,278.3 L361.7,278.3 L361.8,278.4 L361.9,278.4 L362.0,278.4 L362.1,278.4 L362.2,278.4 L362.2,278.4 L362.3,278.3 L362.4,278.3 L365.4,276.9 L365.5,276.9 L365.6,276.8 L365.7,276.8 L365.7,276.7 L365.8,276.6 L365.8,276.5 L365.9,276.5 L365.9,276.4 L366.0,276.3 L366.0,276.2 L366.0,276.1 L366.0,276.0 L366.0,275.9 L365.4,270.0 L365.4,265.9 L367.8,261.6 L375.7,253.8 L379.5,250.9 L395.1,243.0 L409.8,246.0 L409.9,246.0 L418.9,246.6 L426.8,248.0 L433.8,249.4 L433.9,249.4 L434.0,249.4 L434.1,249.4 L439.1,249.0 L439.2,249.0 L439.3,249.0 L439.4,248.9 L439.5,248.9 L439.5,248.8 L439.6,248.8 L444.6,244.8 L444.7,244.7 L449.7,239.7 L449.8,239.6 L454.8,233.6 L454.8,233.6 L458.8,227.6 L458.9,227.5 L458.9,227.4 L459.0,227.3 L460.6,221.3 L460.6,221.2 L460.6,221.1 L460.6,221.0 L460.6,220.9 L460.6,220.8 L460.6,220.7 L460.5,220.6 L458.9,216.6 L458.9,216.5 L458.8,216.5 L458.8,216.4 L458.7,216.3 L458.6,216.2 L458.6,216.2 L458.5,216.1 L458.4,216.1 L458.3,216.0 L458.2,216.0 L458.1,216.0 L458.0,216.0 L457.9,216.0 L457.8,216.0 L457.7,216.0 L457.6,216.1 L457.6,216.1 L453.6,218.1 L453.5,218.2 L453.4,218.2 L453.3,218.3 L449.4,222.2 L445.1,224.8 L440.7,221.3 L430.8,209.4 L426.9,203.5 L423.9,196.6 L421.9,190.7 L421.9,190.6 L421.9,190.5 L418.9,185.5 L418.8,185.4 L418.7,185.3 L418.7,185.3 L418.6,185.2 L418.5,185.1 L414.5,182.7 L414.4,182.7 L414.3,182.7 L414.2,182.6 L414.2,182.6 L414.1,182.6 L414.0,182.6 L413.9,182.6 L413.8,182.6 L413.7,182.7 L413.6,182.7 L413.5,182.7 L413.4,182.8 L411.4,184.2 L411.3,184.2 L411.3,184.3 L411.2,184.4 L411.1,184.5 L411.1,184.6 L411.1,184.7 L411.0,184.8 L411.0,184.9 L410.0,191.9 L410.0,191.9 L409.0,199.9 L408.1,206.9 L401.7,209.1 L401.5,209.1 L394.5,212.7 L394.5,212.8 L394.4,212.8 L394.3,212.8 L389.3,217.2 L389.3,217.3 L381.3,225.2 L377.6,228.1 L372.9,229.0 L367.0,229.0 L366.9,229.0 L366.8,229.0 L366.7,229.0 L361.7,230.4 L361.6,230.5 L361.6,230.5 L361.5,230.5 L361.4,230.6 L356.4,234.2 L356.3,234.2 L356.3,234.3 L356.2,234.4 L348.2,244.4 L348.1,244.5 L345.1,249.5 L345.1,249.6 L345.0,249.7 L343.4,254.7Z" fill="#bcbb68"/>
<path d="M191.0,223.0 L199.0,219.4 L205.0,217.4 L203.0,220.0 L195.0,224.0Z" fill="#d8d03a"/>
<path d="M178.6,256.0 L181.0,255.0 L182.0,261.0 L180.6,264.0 L179.0,261.0Z" fill="#d8d03a"/>
<path d="M507.4,315.0 L508.4,311.6 L509.4,309.6 L510.2,312.4 L509.8,316.0 L508.4,317.6Z" fill="#d8d03a"/>
<path d="M389.0,459.6 L396.0,458.0 L402.0,456.4 L402.4,457.6 L396.0,459.4 L390.0,461.0Z" fill="#d8d03a"/>
<path d="M437.0,441.0 L440.0,439.0 L441.0,440.0 L438.0,442.4Z" fill="#d8d03a"/>
<path d="M343.9,254.8 L343.9,254.9 L343.9,254.9 L343.9,255.0 L343.9,255.0 L343.9,255.1 L343.9,255.1 L343.9,255.2 L344.0,255.2 L344.0,255.3 L344.0,255.3 L344.0,255.4 L346.0,257.3 L349.6,261.3 L353.6,268.2 L353.6,268.3 L357.6,274.3 L357.6,274.3 L357.6,274.3 L357.7,274.4 L361.7,277.8 L361.7,277.8 L361.8,277.8 L361.8,277.9 L361.8,277.9 L361.9,277.9 L361.9,277.9 L362.0,277.9 L362.0,277.9 L362.1,277.9 L362.1,277.9 L362.2,277.9 L362.2,277.9 L365.2,276.5 L365.3,276.4 L365.3,276.4 L365.3,276.4 L365.4,276.3 L365.4,276.3 L365.4,276.3 L365.4,276.2 L365.5,276.2 L365.5,276.1 L365.5,276.1 L365.5,276.0 L365.5,276.0 L365.5,276.0 L364.9,270.0 L364.9,265.7 L367.4,261.3 L375.3,253.4 L379.3,250.4 L395.1,242.5 L409.9,245.5 L410.0,245.5 L418.9,246.1 L426.9,247.5 L433.9,248.9 L433.9,248.9 L434.0,248.9 L434.0,248.9 L439.0,248.5 L439.1,248.5 L439.1,248.5 L439.2,248.5 L439.2,248.4 L439.3,248.4 L439.3,248.4 L444.3,244.4 L444.4,244.4 L449.4,239.4 L449.4,239.3 L454.4,233.3 L454.4,233.3 L458.4,227.3 L458.4,227.2 L458.5,227.2 L458.5,227.1 L460.1,221.1 L460.1,221.1 L460.1,221.0 L460.1,221.0 L460.1,220.9 L460.1,220.9 L460.1,220.9 L460.1,220.8 L458.5,216.8 L458.4,216.8 L458.4,216.7 L458.4,216.7 L458.4,216.7 L458.3,216.6 L458.3,216.6 L458.2,216.6 L458.2,216.5 L458.2,216.5 L458.1,216.5 L458.1,216.5 L458.0,216.5 L458.0,216.5 L457.9,216.5 L457.9,216.5 L457.8,216.5 L457.8,216.6 L453.8,218.6 L453.7,218.6 L453.7,218.6 L453.6,218.6 L449.7,222.6 L445.0,225.4 L440.4,221.6 L430.4,209.7 L426.4,203.8 L423.5,196.8 L421.5,190.8 L421.5,190.8 L421.4,190.7 L418.4,185.7 L418.4,185.7 L418.4,185.7 L418.3,185.6 L418.3,185.6 L418.3,185.6 L414.3,183.2 L414.2,183.1 L414.2,183.1 L414.1,183.1 L414.1,183.1 L414.0,183.1 L414.0,183.1 L413.9,183.1 L413.9,183.1 L413.8,183.1 L413.8,183.1 L413.8,183.2 L413.7,183.2 L411.7,184.6 L411.7,184.6 L411.6,184.7 L411.6,184.7 L411.6,184.7 L411.5,184.8 L411.5,184.8 L411.5,184.9 L411.5,184.9 L410.5,191.9 L410.5,191.9 L409.5,199.9 L408.5,207.2 L401.8,209.5 L401.8,209.6 L394.8,213.2 L394.7,213.2 L394.7,213.2 L394.7,213.2 L389.7,217.6 L389.6,217.6 L381.7,225.6 L377.8,228.5 L373.0,229.5 L367.0,229.5 L367.0,229.5 L366.9,229.5 L366.9,229.5 L361.9,230.9 L361.8,230.9 L361.8,230.9 L361.7,231.0 L361.7,231.0 L356.7,234.6 L356.7,234.6 L356.6,234.7 L356.6,234.7 L348.6,244.7 L348.6,244.7 L345.6,249.7 L345.5,249.8 L345.5,249.8 L343.9,254.8Z" fill="#d8d03a"/>
<path d="M210.1,188.8 L212.5,186.1 L219.2,186.1 L225.9,187.5 L234.0,190.8 L238.0,193.5 L238.3,199.5 L236.0,204.9 L232.0,206.2 L228.6,208.3 L227.9,212.3 L225.9,215.0 L222.6,215.0 L221.2,211.6 L222.6,206.9 L223.9,202.9 L220.6,200.2 L216.6,196.9 L212.5,193.5 L210.1,190.8Z" fill="#f4e60c"/>
<path d="M209.0,240.6 L212.0,240.0 L213.4,244.0 L211.4,245.4Z" fill="#f4e60c"/>
<path d="M344.4,255.0 L346.4,257.0 L350.0,261.0 L354.0,268.0 L358.0,274.0 L362.0,277.4 L365.0,276.0 L364.4,270.0 L364.4,265.6 L367.0,261.0 L371.0,257.0 L375.0,253.0 L379.0,250.0 L383.0,248.0 L387.0,246.0 L391.0,244.0 L395.0,242.0 L400.0,243.0 L405.0,244.0 L410.0,245.0 L419.0,245.6 L427.0,247.0 L434.0,248.4 L439.0,248.0 L444.0,244.0 L449.0,239.0 L454.0,233.0 L458.0,227.0 L459.6,221.0 L458.0,217.0 L454.0,219.0 L450.0,223.0 L445.0,226.0 L440.0,222.0 L435.0,216.0 L430.0,210.0 L426.0,204.0 L423.0,197.0 L421.0,191.0 L418.0,186.0 L414.0,183.6 L412.0,185.0 L411.0,192.0 L410.0,200.0 L409.0,207.6 L402.0,210.0 L395.0,213.6 L390.0,218.0 L386.0,222.0 L382.0,226.0 L378.0,229.0 L373.0,230.0 L367.0,230.0 L362.0,231.4 L357.0,235.0 L353.0,240.0 L349.0,245.0 L346.0,250.0 L344.4,255.0Z" fill="#f4e60c"/>
<path d="M346.5,254.7 L346.5,254.9 L346.5,255.0 L346.5,255.2 L346.5,255.4 L346.6,255.6 L346.6,255.7 L346.7,255.9 L346.8,256.1 L346.9,256.2 L348.5,258.2 L348.6,258.4 L351.5,261.2 L355.3,268.0 L355.4,268.0 L358.4,273.0 L358.5,273.2 L358.6,273.4 L361.6,276.4 L361.8,276.5 L361.9,276.6 L362.1,276.7 L362.2,276.8 L362.4,276.8 L362.6,276.9 L362.8,276.9 L363.0,276.9 L363.0,276.9 L364.5,276.3 L364.5,276.1 L365.0,275.6 L364.4,270.0 L364.4,265.6 L367.0,261.0 L371.0,257.0 L375.0,253.0 L375.5,252.7 L376.2,251.9 L377.4,251.2 L379.0,250.0 L383.0,248.0 L387.0,246.0 L388.9,245.0 L391.9,243.1 L394.8,242.1 L395.0,242.0 L395.1,242.0 L395.3,241.9 L399.7,242.3 L404.6,243.3 L404.8,243.3 L409.8,243.9 L409.9,243.9 L419.8,244.5 L427.6,245.9 L433.5,247.5 L433.7,247.5 L433.9,247.5 L434.1,247.5 L434.3,247.5 L434.5,247.5 L434.6,247.4 L440.2,245.4 L440.4,245.3 L440.6,245.2 L440.8,245.1 L440.9,245.0 L445.3,240.8 L445.4,240.8 L455.8,230.3 L458.0,227.0 L459.5,221.2 L458.4,220.0 L458.2,219.9 L458.1,219.8 L457.9,219.7 L457.7,219.6 L457.5,219.6 L457.3,219.5 L457.1,219.5 L457.0,219.5 L456.8,219.5 L456.6,219.5 L456.4,219.6 L456.2,219.7 L456.0,219.7 L455.9,219.9 L455.7,220.0 L451.8,223.5 L447.9,226.4 L443.2,229.6 L441.4,228.1 L438.6,224.0 L435.6,219.0 L435.5,218.8 L431.6,213.9 L419.8,194.3 L419.1,190.6 L419.0,190.5 L419.0,190.3 L418.9,190.1 L416.9,186.1 L416.8,186.0 L416.7,185.8 L416.6,185.7 L416.5,185.6 L416.3,185.5 L416.2,185.4 L416.0,185.3 L415.9,185.2 L414.3,184.6 L414.1,184.5 L413.9,184.5 L413.7,184.5 L413.6,184.5 L413.4,184.5 L413.2,184.5 L413.0,184.6 L412.8,184.6 L412.7,184.7 L412.5,184.8 L412.4,184.9 L412.2,185.0 L412.1,185.2 L412.0,185.3 L411.9,185.4 L411.2,190.4 L410.7,195.8 L410.1,201.8 L410.1,201.9 L409.9,207.8 L409.1,213.5 L406.7,219.6 L399.9,220.1 L399.7,220.1 L399.6,220.1 L393.6,221.5 L393.4,221.6 L393.2,221.7 L393.0,221.7 L392.9,221.8 L387.9,225.4 L387.8,225.5 L387.6,225.6 L379.7,233.6 L376.0,236.7 L373.0,237.9 L370.7,236.9 L368.6,233.9 L368.5,233.7 L368.3,233.6 L368.2,233.5 L368.0,233.4 L367.9,233.3 L367.7,233.2 L367.6,233.2 L367.4,233.1 L364.4,232.5 L364.2,232.5 L364.0,232.5 L363.8,232.5 L363.7,232.5 L363.5,232.6 L363.3,232.6 L363.1,232.7 L359.1,234.7 L358.9,234.8 L358.8,234.9 L355.2,237.9 L355.0,238.1 L354.9,238.3 L351.5,242.9 L351.4,243.0 L348.4,248.0 L348.3,248.2 L348.2,248.3 L348.1,248.5 L346.5,254.5 L346.5,254.7Z" fill="#f6c50a"/>
<path d="M347.0,254.8 L347.0,254.9 L347.0,255.0 L347.0,255.2 L347.0,255.3 L347.0,255.4 L347.1,255.6 L347.1,255.7 L347.2,255.8 L347.3,255.9 L348.9,257.9 L349.0,258.0 L351.8,260.9 L355.7,267.7 L355.8,267.7 L358.8,272.7 L358.9,272.9 L359.0,273.0 L362.0,276.0 L362.1,276.1 L362.2,276.2 L362.3,276.3 L362.4,276.3 L362.6,276.4 L362.7,276.4 L362.8,276.4 L363.0,276.4 L363.1,276.4 L363.2,276.4 L363.4,276.4 L363.5,276.3 L363.6,276.3 L363.8,276.2 L363.9,276.1 L364.0,276.1 L364.1,276.0 L364.2,275.9 L364.9,274.9 L364.4,270.0 L364.4,265.6 L367.0,261.0 L369.2,258.8 L372.1,255.4 L375.9,251.5 L379.7,249.3 L387.6,245.3 L387.8,245.2 L391.6,242.7 L395.2,241.5 L399.8,241.8 L404.7,242.8 L404.8,242.8 L409.8,243.4 L409.9,243.4 L419.8,244.0 L427.7,245.4 L433.6,247.0 L433.8,247.0 L433.9,247.0 L434.1,247.0 L434.2,247.0 L434.3,247.0 L434.5,247.0 L440.1,245.0 L440.2,244.9 L440.4,244.8 L440.5,244.7 L440.6,244.6 L445.0,240.4 L445.0,240.4 L457.0,228.4 L457.2,228.3 L457.2,228.2 L458.0,227.0 L459.4,221.8 L458.0,220.4 L457.9,220.3 L457.8,220.2 L457.7,220.1 L457.5,220.1 L457.4,220.0 L457.3,220.0 L457.1,220.0 L457.0,220.0 L456.8,220.0 L456.7,220.0 L456.5,220.0 L456.4,220.1 L456.3,220.2 L456.1,220.2 L456.0,220.3 L452.1,223.9 L448.2,226.8 L443.1,230.2 L441.1,228.4 L438.2,224.2 L435.2,219.3 L435.1,219.1 L431.2,214.2 L419.4,194.5 L418.6,190.7 L418.6,190.6 L418.5,190.5 L418.5,190.4 L416.5,186.4 L416.4,186.2 L416.3,186.1 L416.3,186.0 L416.2,185.9 L416.1,185.8 L415.9,185.8 L415.8,185.7 L415.7,185.7 L414.1,185.1 L414.0,185.0 L413.8,185.0 L413.7,185.0 L413.6,185.0 L413.4,185.0 L413.3,185.0 L413.2,185.0 L413.0,185.1 L412.9,185.1 L412.8,185.2 L412.7,185.3 L412.6,185.4 L412.5,185.5 L412.4,185.6 L412.3,185.7 L412.3,185.8 L412.2,186.0 L412.2,186.1 L412.2,186.2 L411.8,189.8 L411.8,189.9 L411.2,195.9 L410.6,201.9 L410.6,202.0 L410.4,207.9 L409.6,213.6 L407.0,220.0 L399.9,220.6 L399.8,220.6 L399.7,220.6 L393.7,222.0 L393.5,222.0 L393.4,222.1 L393.3,222.2 L393.2,222.2 L388.2,225.8 L388.1,225.9 L388.0,226.0 L380.0,233.9 L376.2,237.2 L373.0,238.4 L370.3,237.2 L368.2,234.2 L368.1,234.1 L368.0,234.0 L367.9,233.9 L367.8,233.8 L367.7,233.7 L367.5,233.7 L367.4,233.6 L367.3,233.6 L364.3,233.0 L364.1,233.0 L364.0,233.0 L363.9,233.0 L363.7,233.0 L363.6,233.0 L363.5,233.1 L363.4,233.1 L359.4,235.1 L359.2,235.2 L359.1,235.3 L355.5,238.3 L355.4,238.4 L355.2,238.5 L351.8,243.1 L351.8,243.3 L348.8,248.3 L348.7,248.4 L348.6,248.5 L348.6,248.6 L347.0,254.6 L347.0,254.8Z" fill="#f7a409"/>
<path d="M211.2,188.8 L213.2,186.8 L219.2,186.8 L225.9,188.4 L233.3,191.5 L237.3,194.2 L237.7,198.9 L235.6,204.0 L232.0,205.3 L227.9,205.6 L225.9,203.6 L225.7,200.9 L221.9,198.9 L217.9,195.5 L213.9,192.2 L211.5,190.6Z" fill="#f98307"/>
<path d="M223.3,210.3 L225.3,208.9 L226.6,210.9 L225.3,213.6 L223.3,212.9Z" fill="#f98307"/>
<path d="M347.5,254.8 L347.4,254.9 L347.4,255.0 L347.4,255.1 L347.5,255.2 L347.5,255.3 L347.5,255.4 L347.6,255.4 L347.6,255.5 L347.7,255.6 L349.3,257.6 L349.3,257.7 L352.2,260.6 L356.2,267.5 L356.2,267.5 L359.2,272.5 L359.2,272.6 L359.3,272.7 L362.3,275.7 L362.4,275.7 L362.5,275.8 L362.5,275.8 L362.6,275.9 L362.7,275.9 L362.8,275.9 L362.9,276.0 L363.0,276.0 L363.1,276.0 L363.2,275.9 L363.3,275.9 L363.3,275.9 L363.4,275.9 L363.5,275.8 L363.6,275.8 L363.7,275.7 L363.7,275.6 L363.8,275.6 L364.8,274.1 L364.4,270.0 L364.4,265.6 L367.0,261.0 L368.0,260.0 L368.8,258.5 L371.7,255.0 L375.6,251.2 L379.5,248.8 L387.4,244.9 L387.5,244.8 L391.4,242.3 L395.1,241.0 L399.9,241.4 L404.8,242.3 L404.9,242.4 L409.9,243.0 L409.9,243.0 L419.9,243.6 L427.8,244.9 L433.8,246.5 L433.8,246.5 L433.9,246.6 L434.0,246.6 L434.1,246.6 L434.2,246.5 L434.3,246.5 L439.9,244.5 L440.0,244.5 L440.1,244.4 L440.2,244.4 L440.3,244.3 L444.7,240.1 L444.7,240.1 L456.7,228.1 L456.8,228.0 L458.3,226.0 L459.3,222.3 L457.7,220.7 L457.6,220.7 L457.5,220.6 L457.4,220.5 L457.4,220.5 L457.3,220.5 L457.2,220.5 L457.1,220.4 L457.0,220.4 L456.9,220.4 L456.8,220.5 L456.7,220.5 L456.6,220.5 L456.5,220.6 L456.4,220.6 L456.4,220.7 L452.4,224.3 L448.4,227.2 L443.1,230.8 L440.7,228.8 L437.8,224.5 L434.8,219.5 L434.7,219.4 L430.8,214.5 L418.9,194.6 L418.1,190.8 L418.1,190.7 L418.1,190.6 L418.1,190.6 L416.1,186.6 L416.0,186.5 L416.0,186.4 L415.9,186.3 L415.8,186.3 L415.8,186.2 L415.7,186.2 L415.6,186.1 L415.5,186.1 L413.9,185.5 L413.8,185.5 L413.8,185.5 L413.7,185.4 L413.6,185.4 L413.5,185.4 L413.4,185.5 L413.3,185.5 L413.2,185.5 L413.1,185.6 L413.1,185.6 L413.0,185.7 L412.9,185.7 L412.9,185.8 L412.8,185.9 L412.8,185.9 L412.7,186.0 L412.7,186.1 L412.7,186.2 L412.6,186.3 L412.2,189.9 L412.2,189.9 L411.6,195.9 L411.0,201.9 L411.0,202.0 L410.8,207.9 L410.1,213.8 L407.3,220.5 L399.9,221.0 L399.9,221.1 L399.8,221.1 L393.8,222.5 L393.7,222.5 L393.6,222.5 L393.5,222.6 L393.4,222.6 L388.4,226.2 L388.4,226.3 L388.3,226.3 L380.3,234.3 L376.5,237.6 L373.0,239.0 L370.0,237.6 L367.8,234.4 L367.7,234.4 L367.7,234.3 L367.6,234.2 L367.5,234.2 L367.4,234.1 L367.4,234.1 L367.3,234.1 L367.2,234.1 L364.2,233.5 L364.1,233.4 L364.0,233.4 L363.9,233.4 L363.8,233.5 L363.7,233.5 L363.7,233.5 L363.6,233.5 L359.6,235.5 L359.5,235.6 L359.4,235.7 L355.8,238.7 L355.7,238.7 L355.6,238.8 L352.2,243.4 L352.2,243.5 L349.2,248.5 L349.1,248.6 L349.1,248.7 L349.1,248.8 L347.5,254.8 L347.5,254.8Z" fill="#f98307"/>
<path d="M347.9,254.9 L347.9,255.0 L347.9,255.0 L347.9,255.1 L347.9,255.1 L347.9,255.1 L348.0,255.2 L348.0,255.2 L348.0,255.3 L348.0,255.3 L349.6,257.3 L349.7,257.3 L352.6,260.3 L356.6,267.2 L356.6,267.2 L359.6,272.2 L359.6,272.3 L359.7,272.3 L362.7,275.3 L362.7,275.4 L362.7,275.4 L362.8,275.4 L362.8,275.4 L362.9,275.5 L362.9,275.5 L362.9,275.5 L363.0,275.5 L363.0,275.5 L363.1,275.5 L363.1,275.5 L363.2,275.4 L363.2,275.4 L363.3,275.4 L363.3,275.4 L363.3,275.4 L363.4,275.3 L363.4,275.3 L364.7,273.4 L364.4,270.0 L364.4,265.6 L366.0,262.7 L366.1,262.6 L368.4,258.3 L371.4,254.7 L375.3,250.8 L379.2,248.4 L387.2,244.4 L387.3,244.4 L391.2,241.8 L395.1,240.5 L399.9,240.9 L404.9,241.9 L404.9,241.9 L409.9,242.5 L410.0,242.5 L419.9,243.1 L427.9,244.5 L433.9,246.1 L433.9,246.1 L434.0,246.1 L434.0,246.1 L434.1,246.1 L434.1,246.1 L434.2,246.1 L439.8,244.1 L439.8,244.0 L439.9,244.0 L439.9,244.0 L439.9,243.9 L444.3,239.7 L444.3,239.7 L456.3,227.7 L456.4,227.7 L458.6,224.7 L459.1,222.8 L457.3,221.1 L457.3,221.0 L457.3,221.0 L457.2,221.0 L457.2,221.0 L457.1,220.9 L457.1,220.9 L457.0,220.9 L457.0,220.9 L456.9,220.9 L456.9,220.9 L456.8,220.9 L456.8,221.0 L456.8,221.0 L456.7,221.0 L456.7,221.0 L452.7,224.6 L448.7,227.6 L443.0,231.4 L440.4,229.1 L437.4,224.7 L434.4,219.8 L434.4,219.7 L430.4,214.7 L418.5,194.8 L417.7,190.9 L417.7,190.9 L417.6,190.8 L417.6,190.8 L415.6,186.8 L415.6,186.7 L415.6,186.7 L415.6,186.7 L415.5,186.6 L415.5,186.6 L415.4,186.6 L415.4,186.6 L415.4,186.6 L413.8,186.0 L413.7,185.9 L413.7,185.9 L413.6,185.9 L413.6,185.9 L413.5,185.9 L413.5,185.9 L413.5,185.9 L413.4,186.0 L413.4,186.0 L413.3,186.0 L413.3,186.0 L413.3,186.1 L413.2,186.1 L413.2,186.1 L413.2,186.2 L413.2,186.2 L413.1,186.3 L413.1,186.3 L413.1,186.3 L412.7,189.9 L412.7,190.0 L412.1,196.0 L411.5,202.0 L411.5,202.0 L411.3,208.0 L410.5,213.9 L407.7,220.9 L400.0,221.5 L399.9,221.5 L399.9,221.5 L393.9,222.9 L393.8,222.9 L393.8,223.0 L393.8,223.0 L393.7,223.0 L388.7,226.6 L388.7,226.6 L388.7,226.7 L380.7,234.6 L376.7,238.0 L373.0,239.5 L369.7,238.0 L367.4,234.7 L367.4,234.7 L367.3,234.7 L367.3,234.6 L367.3,234.6 L367.2,234.6 L367.2,234.6 L367.1,234.5 L367.1,234.5 L364.1,233.9 L364.0,233.9 L364.0,233.9 L364.0,233.9 L363.9,233.9 L363.9,233.9 L363.8,234.0 L363.8,234.0 L359.8,236.0 L359.7,236.0 L359.7,236.0 L356.1,239.0 L356.1,239.1 L356.0,239.1 L352.6,243.7 L352.6,243.8 L349.6,248.8 L349.6,248.8 L349.5,248.8 L349.5,248.9 L347.9,254.9 L347.9,254.9Z" fill="#fa6305"/>
<path d="M211.9,188.7 L213.9,187.1 L219.2,187.2 L225.9,188.8 L232.9,191.9 L236.9,194.5 L237.3,198.7 L235.3,203.4 L232.0,204.8 L228.4,205.0 L226.3,203.0 L226.2,200.3 L222.6,198.3 L218.6,195.1 L214.5,192.0 L212.1,190.3Z" fill="#fc4203"/>
<path d="M348.4,255.0 L350.0,257.0 L353.0,260.0 L357.0,267.0 L360.0,272.0 L363.0,275.0 L365.2,272.0 L365.0,267.0 L365.6,262.4 L368.0,258.0 L371.0,254.4 L375.0,250.4 L379.0,248.0 L383.0,246.0 L387.0,244.0 L391.0,241.4 L395.0,240.0 L400.0,240.4 L405.0,241.4 L410.0,242.0 L420.0,242.6 L428.0,244.0 L434.0,245.6 L439.6,243.6 L444.0,239.4 L448.0,235.4 L452.0,231.4 L456.0,227.4 L459.0,223.4 L457.0,221.4 L453.0,225.0 L449.0,228.0 L443.0,232.0 L440.0,229.4 L437.0,225.0 L434.0,220.0 L430.0,215.0 L427.0,210.0 L424.0,205.0 L421.0,200.0 L418.0,195.0 L417.2,191.0 L415.2,187.0 L413.6,186.4 L413.2,190.0 L412.6,196.0 L412.0,202.0 L411.8,208.0 L411.0,214.0 L408.0,221.4 L400.0,222.0 L394.0,223.4 L389.0,227.0 L385.0,231.0 L381.0,235.0 L377.0,238.4 L373.0,240.0 L369.4,238.4 L367.0,235.0 L364.0,234.4 L360.0,236.4 L356.4,239.4 L353.0,244.0 L350.0,249.0 L348.4,255.0Z" fill="#fc4203"/>
<path d="M349.1,254.9 L350.4,256.6 L353.4,259.6 L353.5,259.6 L353.5,259.7 L353.5,259.7 L357.5,266.7 L360.5,271.6 L362.9,274.1 L364.6,271.8 L364.4,267.0 L364.4,267.0 L364.4,266.9 L365.0,262.3 L365.0,262.3 L365.0,262.2 L365.0,262.2 L365.1,262.1 L367.5,257.7 L367.5,257.7 L367.5,257.6 L370.5,254.0 L370.6,254.0 L374.6,250.0 L374.6,249.9 L374.7,249.9 L378.7,247.5 L378.7,247.5 L386.7,243.5 L390.7,240.9 L390.7,240.9 L390.8,240.8 L394.8,239.4 L394.9,239.4 L394.9,239.4 L395.0,239.4 L395.0,239.4 L400.0,239.8 L400.1,239.8 L405.1,240.8 L410.1,241.4 L420.0,242.0 L420.1,242.0 L428.1,243.4 L428.2,243.4 L434.0,245.0 L439.3,243.1 L443.6,239.0 L455.5,227.0 L458.2,223.5 L457.0,222.2 L453.4,225.4 L453.4,225.5 L449.4,228.5 L449.3,228.5 L443.3,232.5 L443.3,232.5 L443.2,232.6 L443.2,232.6 L443.1,232.6 L443.1,232.6 L443.0,232.6 L442.9,232.6 L442.9,232.6 L442.8,232.6 L442.8,232.5 L442.7,232.5 L442.7,232.5 L442.6,232.5 L439.6,229.9 L439.6,229.8 L439.5,229.8 L439.5,229.7 L436.5,225.3 L436.5,225.3 L433.5,220.3 L429.5,215.4 L429.5,215.3 L417.5,195.3 L417.5,195.2 L417.4,195.2 L417.4,195.1 L416.6,191.2 L414.8,187.5 L414.1,187.2 L413.8,190.1 L413.2,196.1 L412.6,202.0 L412.4,208.0 L412.4,208.1 L411.6,214.1 L411.6,214.1 L411.6,214.2 L411.6,214.2 L408.6,221.6 L408.5,221.7 L408.5,221.7 L408.5,221.8 L408.4,221.8 L408.4,221.9 L408.3,221.9 L408.3,221.9 L408.2,222.0 L408.2,222.0 L408.1,222.0 L408.0,222.0 L400.1,222.6 L394.3,224.0 L389.4,227.5 L381.4,235.4 L381.4,235.5 L377.4,238.9 L377.3,238.9 L377.3,238.9 L377.2,239.0 L373.2,240.6 L373.2,240.6 L373.1,240.6 L373.0,240.6 L373.0,240.6 L372.9,240.6 L372.9,240.6 L372.8,240.6 L372.8,240.5 L369.2,238.9 L369.1,238.9 L369.0,238.9 L369.0,238.8 L368.9,238.8 L368.9,238.7 L366.6,235.5 L364.1,235.0 L360.3,236.9 L356.8,239.8 L353.5,244.3 L350.6,249.2 L349.1,254.9Z" fill="#fd2102"/>
<path d="M212.5,188.6 L214.5,187.2 L219.2,187.5 L225.9,189.2 L232.6,192.2 L236.7,194.6 L237.1,198.6 L235.1,202.9 L232.0,204.2 L228.6,204.5 L226.6,202.6 L226.6,199.9 L223.3,197.8 L219.2,194.9 L215.2,191.9 L212.8,190.2Z" fill="#ff0000"/>
<path d="M349.7,254.7 L350.9,256.2 L353.8,259.2 L353.9,259.2 L354.0,259.3 L354.0,259.4 L358.0,266.4 L361.0,271.3 L362.9,273.2 L364.0,271.6 L363.8,267.0 L363.8,266.9 L363.8,266.8 L364.4,262.2 L364.4,262.1 L364.5,262.0 L364.5,261.9 L364.5,261.8 L366.9,257.4 L367.0,257.3 L367.1,257.2 L370.1,253.6 L370.2,253.6 L374.2,249.6 L374.3,249.5 L374.4,249.4 L378.4,247.0 L378.5,246.9 L386.4,243.0 L390.3,240.4 L390.5,240.3 L390.6,240.3 L394.6,238.9 L394.7,238.8 L394.8,238.8 L395.0,238.8 L395.1,238.8 L400.1,239.2 L400.2,239.2 L405.2,240.2 L410.1,240.8 L420.1,241.4 L420.2,241.4 L428.2,242.8 L428.3,242.8 L433.9,244.3 L439.0,242.6 L443.2,238.5 L455.1,226.6 L457.4,223.5 L457.0,223.1 L453.8,225.9 L453.7,226.0 L449.7,229.0 L449.7,229.0 L443.7,233.0 L443.6,233.1 L443.5,233.1 L443.3,233.2 L443.2,233.2 L443.1,233.2 L443.0,233.2 L442.9,233.2 L442.7,233.2 L442.6,233.1 L442.5,233.1 L442.4,233.0 L442.3,233.0 L442.2,232.9 L439.2,230.3 L439.1,230.2 L439.1,230.2 L439.0,230.1 L436.0,225.7 L436.0,225.6 L433.0,220.7 L429.1,215.7 L429.0,215.6 L417.0,195.6 L416.9,195.5 L416.9,195.4 L416.8,195.2 L416.1,191.4 L414.6,188.4 L414.4,190.1 L413.8,196.1 L413.2,202.1 L413.0,208.0 L413.0,208.2 L412.2,214.2 L412.2,214.3 L412.1,214.4 L412.1,214.5 L409.1,221.9 L409.1,222.0 L409.0,222.1 L408.9,222.2 L408.8,222.3 L408.8,222.3 L408.7,222.4 L408.6,222.5 L408.4,222.5 L408.3,222.6 L408.2,222.6 L408.1,222.6 L400.2,223.2 L394.5,224.5 L389.8,227.9 L381.8,235.8 L381.8,235.9 L377.8,239.3 L377.7,239.4 L377.6,239.5 L377.4,239.5 L373.4,241.1 L373.3,241.2 L373.2,241.2 L373.1,241.2 L373.0,241.2 L372.9,241.2 L372.7,241.2 L372.6,241.1 L372.5,241.1 L368.9,239.5 L368.8,239.4 L368.7,239.4 L368.6,239.3 L368.5,239.2 L368.4,239.1 L366.3,236.1 L364.2,235.7 L360.7,237.4 L357.3,240.2 L354.0,244.7 L351.1,249.5 L349.7,254.7Z" fill="#ff0000"/>
<path d="M433.0,201.0 L440.0,199.0 L447.0,203.0 L453.0,208.0 L455.0,214.0 L454.0,220.0 L451.0,224.0 L447.6,227.2 L443.6,225.2 L440.4,221.6 L437.4,216.0 L434.4,209.0Z" fill="#ffffff"/>
<path d="M432.4,238.2 L435.4,237.4 L437.2,238.6 L436.0,239.8 L433.0,239.6Z" fill="#8490c4"/>
<path d="M398.0,216.6 L408.0,215.0 L408.8,218.4 L399.0,219.8Z" fill="#8490c4"/>
<path d="M397.0,216.0 L408.4,214.0 L409.6,219.2 L398.4,220.8Z" fill="#bcbb68"/>
<path d="M431.0,237.6 L435.0,236.4 L438.4,238.0 L437.0,240.4 L432.4,240.0Z" fill="#f4e60c"/>
<path d="M410.0,211.0 L415.0,210.6 L415.4,213.6 L410.4,214.4Z" fill="#f6c50a"/>
<path d="M416.0,233.4 L421.6,232.6 L422.4,236.4 L417.0,237.2Z" fill="#f7a409"/>
<path d="M414.0,196.0 L415.6,195.6 L417.2,204.0 L418.0,212.0 L416.0,212.4 L414.8,204.0Z" fill="#f7a409"/>
<path d="M353.0,259.0 L355.0,255.0 L359.0,252.0 L361.0,253.0 L358.0,257.0 L355.0,262.0 L354.0,265.0Z" fill="#f98307"/>
<path d="M358.0,265.0 L359.0,260.0 L362.0,257.0 L363.0,259.0 L361.0,263.0 L360.4,265.0Z" fill="#f98307"/>
<path d="M403.0,229.0 L408.0,228.4 L408.4,231.6 L403.6,232.4Z" fill="#f98307"/>
<path d="M418.0,198.0 L420.4,202.0 L423.6,208.0 L427.0,213.6 L425.6,214.8 L422.0,209.6 L419.0,204.0 L417.2,199.6Z" fill="#f98307"/>
<path d="M411.0,196.0 L413.0,195.0 L415.0,202.0 L416.0,210.0 L413.0,210.0 L411.0,204.0Z" fill="#fa6305"/>
<path d="M390.0,230.0 L396.0,228.0 L399.0,230.0 L395.0,232.4 L391.0,232.4Z" fill="#fa6305"/>
<path d="M424.0,220.0 L428.0,219.0 L432.0,225.0 L429.0,227.0 L425.6,224.0Z" fill="#fa6305"/>
<path d="M378.0,243.0 L384.0,241.0 L390.0,238.0 L392.0,239.6 L386.0,243.0 L380.0,245.0Z" fill="#fc4203"/>
</g>
<g fill="none" stroke="#808080" stroke-opacity="0.5" stroke-width="1.39" stroke-dasharray="5.14 2.22"><circle cx="338.5" cy="260.5" r="195.83"/><circle cx="338.5" cy="260.5" r="159.64"/><circle cx="338.5" cy="260.5" r="104.20"/><circle cx="338.5" cy="260.5" r="36.19"/><line x1="338.50" y1="468.90" x2="338.50" y2="263.00"/><line x1="518.98" y1="364.70" x2="340.67" y2="261.75"/><line x1="518.98" y1="156.30" x2="340.67" y2="259.25"/><line x1="338.50" y1="52.10" x2="338.50" y2="258.00"/><line x1="158.02" y1="156.30" x2="336.33" y2="259.25"/><line x1="158.02" y1="364.70" x2="336.33" y2="261.75"/></g>
<path transform="translate(0,0)" d="M149.5,209.5 L155.0,205.0 L161.5,198.5 L166.0,194.5 L170.0,192.0 L174.5,190.5 L177.0,187.5 L177.5,186.0 L174.0,186.2 L170.0,188.0 L164.5,191.0 L160.0,194.5 L157.8,196.0 L158.5,195.0 L162.5,190.0 L166.5,189.0 L170.0,184.0 L171.5,182.8 L172.0,184.5 L174.5,182.5 L179.0,181.0 L183.5,180.0 L187.0,177.0 L190.5,173.5 L196.0,172.0 L204.0,170.5 L209.0,171.5 L213.0,175.0 L215.0,176.5 M213.0,175.5 L215.0,177.5 L218.5,180.0 L222.0,181.5 L225.0,182.6 L229.0,182.2 L233.0,181.5 L236.0,181.5 L239.5,181.0 L243.0,181.8 L247.0,182.2 L250.0,181.5 L253.0,183.0 L257.0,183.2 L259.5,184.2 L262.0,182.0 L265.0,180.0 L270.0,179.2 L275.0,177.5 L278.0,175.5 L280.0,175.0 M219.0,184.8 L222.5,183.5 L226.5,181.5 L230.5,179.5 L234.0,178.2 L235.0,179.0 L233.0,181.2 L229.0,183.5 L225.0,185.0 L222.0,186.0 L219.8,185.7 L219.0,184.8 M242.2,176.0 L245.0,175.5 L248.5,175.8 L249.5,177.2 L247.5,179.0 L246.0,177.5 L244.0,176.8 L242.2,176.0 M270.0,180.0 L274.0,178.5 L278.5,176.0 L283.0,174.0 L283.5,172.5 L284.2,174.5 L285.0,171.0 L286.5,168.0 L288.5,166.5 L290.5,165.8 L290.0,170.0 L289.2,172.5 L288.6,173.0 L289.0,170.0 L290.0,166.2 L291.0,163.5 L290.5,160.5 L292.5,157.0 L294.5,153.5 L296.5,150.5 L300.0,148.5 L303.5,145.5 L307.0,143.8 L305.0,146.2 L302.0,149.2 L299.0,151.2 L297.5,153.2 L296.5,156.0 L296.2,159.0 L297.0,161.0 L298.5,159.5 L301.0,158.5 L303.5,159.0 L305.0,158.0 L306.0,160.0 L308.5,161.0 L311.0,160.5 L312.5,159.0 L314.5,158.8 L315.5,160.0 L314.0,161.0 L313.5,162.5 L314.0,165.0 L313.5,168.0 L312.0,170.0 L310.0,170.5 L309.0,172.5 L308.5,174.5 L309.5,177.0 L310.0,175.0 L313.0,174.5 L316.5,175.0 L319.0,175.5 L320.0,177.0 L319.0,179.0 L317.0,180.0 L314.0,180.5 L312.5,181.0 L314.5,182.5 L317.0,184.0 L319.0,185.5 L320.5,186.5 L321.0,188.5 L319.0,190.0 M286.5,161.5 L287.5,159.0 L289.5,158.2 L290.5,159.5 L289.5,161.5 L287.5,162.5 L286.5,161.5 M320.0,168.8 L322.5,168.4 L325.5,169.0 L322.5,169.6 L320.0,168.8 M345.0,163.5 L342.0,164.0 L340.0,164.5 L339.0,166.5 L340.0,168.5 L341.5,170.0 L342.5,171.5 L340.0,172.0 L338.5,174.5 L337.0,176.0 L336.0,174.5 L334.0,173.5 L331.5,172.5 L329.0,171.0 L327.0,172.0 L326.0,174.5 L324.0,176.5 L324.5,178.0 L327.0,179.5 L330.0,179.0 L330.5,177.8 L331.2,179.5 L334.0,182.5 L338.0,185.5 L342.0,188.0 L345.0,189.5 M368.0,160.0 L370.5,157.5 L372.5,155.5 L371.0,153.5 L371.5,150.5 L373.5,149.0 L375.0,148.5 L375.5,146.5 L378.0,145.5 L380.5,143.5 L383.5,144.0 L385.0,142.0 L388.0,140.5 L390.2,140.2 L390.0,143.0 L389.5,147.0 L388.0,152.0 L385.0,155.0 L381.0,157.5 L377.0,159.5 L376.0,160.0 M335.0,175.5 L337.0,176.0 L337.5,174.0 L340.0,172.5 L342.0,171.0 L340.5,168.0 L339.5,165.0 L342.0,164.5 L346.0,163.0 L351.0,160.5 L354.5,158.0 L356.0,158.0 L357.5,160.0 L361.0,159.5 L364.0,159.0 L367.0,160.0 L369.5,158.5 L372.0,156.0 L372.5,155.0 M387.0,155.0 L385.0,156.5 L382.0,158.0 L378.0,159.5 L374.0,161.5 L370.0,163.5 L367.0,165.0 L365.0,167.5 L364.5,168.5 L366.5,167.5 L369.0,165.5 L372.0,164.5 L373.5,165.0 L373.5,167.0 L374.5,168.5 L377.0,169.0 L380.0,168.0 L382.5,166.5 L384.0,164.5 L386.0,164.5 L389.5,165.5 L390.0,167.5 L392.5,169.5 L396.0,171.5 L399.0,173.5 L402.0,175.0 L405.0,176.0 L410.0,176.0 M335.0,183.5 L337.0,185.0 L340.0,187.5 L344.0,189.0 L348.0,190.0 L350.0,190.5 L350.5,187.5 L352.0,187.0 L353.5,189.0 L356.5,190.5 L360.0,192.0 L362.5,193.0 L363.5,196.0 L366.0,198.0 L369.0,200.0 L370.5,203.0 L371.0,205.0 M336.0,193.5 L338.0,192.5 L339.5,193.0 L338.5,194.5 L336.5,194.5 L336.0,193.5 M423.5,135.5 L426.0,136.5 L430.0,137.5 L432.0,136.0 L433.0,138.5 L434.5,140.5 L432.5,142.5 L430.0,144.0 L428.0,145.0 L426.5,143.0 L425.0,140.0 L423.2,138.0 L423.5,135.5 M436.0,140.0 L436.5,136.5 L438.0,134.0 L441.0,133.5 L443.5,131.0 L446.0,129.5 L449.0,130.0 L452.0,132.0 L454.5,134.0 L458.0,135.5 L460.0,137.0 L462.0,139.0 L464.5,140.5 L467.0,142.0 L469.0,144.0 L471.5,144.0 L474.0,145.0 L474.5,147.0 L473.0,148.5 L470.0,148.0 L468.0,146.0 L465.0,145.0 L462.0,143.0 L459.0,140.5 L456.0,139.5 L453.0,140.0 L451.0,138.5 L448.0,137.0 L445.0,136.5 L442.0,137.5 L439.5,139.5 L438.0,142.0 L436.0,142.5 L435.0,141.0 L436.0,140.0 M412.5,164.0 L414.0,160.0 L416.0,155.0 L417.5,149.5 L419.0,151.0 L420.0,153.0 L422.5,150.0 L425.0,146.0 L426.2,141.0 L428.0,140.5 L430.0,145.0 L427.5,148.0 L424.0,152.0 L421.0,155.5 L418.5,159.0 L416.0,162.0 L413.5,163.5 L412.5,164.0 M400.0,174.0 L404.0,175.5 L410.0,175.0 L417.0,175.0 L423.5,175.0 L421.5,171.5 L419.5,169.5 L417.5,168.5 L417.0,165.0 L418.0,162.5 L420.0,160.0 L422.5,157.5 L426.0,155.0 L430.0,154.2 L435.0,153.5 L440.0,153.5 L445.0,153.8 L448.0,154.5 L450.5,156.5 L451.5,159.0 L454.5,160.0 L458.0,160.5 L460.0,161.5 L463.0,162.0 L465.5,163.0 M466.0,141.5 L469.0,143.0 L472.5,143.5 L474.5,145.0 L473.5,147.5 L473.0,149.5 L471.0,148.5 L468.0,147.5 L465.0,145.5 M455.0,160.0 L459.0,159.0 L463.0,160.5 L465.5,162.5 L467.5,160.0 L467.5,156.0 L469.0,154.0 L471.5,153.8 L474.0,155.0 L476.5,158.0 L475.0,160.5 L473.0,161.0 L473.5,164.0 L472.0,165.5 L470.0,168.0 L471.0,170.5 L473.0,173.0 L475.5,175.5 L477.5,177.0 L478.5,174.0 L478.5,171.5 L480.0,174.0 L483.0,176.0 L486.5,177.0 L487.5,174.0 L488.5,170.0 L490.0,166.5 L492.5,164.5 L495.0,164.5 L497.5,166.5 L501.0,168.0 L505.0,170.0 L508.0,172.5 L510.5,176.0 L512.5,180.0 M498.5,162.0 L500.5,161.0 L503.0,161.5 L504.5,163.0 L503.5,164.5 L501.0,164.5 L499.0,163.5 L498.5,162.0 M506.5,146.5 L507.5,148.5 L508.5,151.5 L509.5,154.5 L511.0,157.0 L512.0,159.5 L510.5,160.5 L508.5,159.5 L506.5,157.5 L506.0,155.5 L507.5,154.0 L508.5,154.0 L507.0,150.0 L506.5,146.5 M472.0,175.5 L473.0,178.5 L476.5,181.5 L480.0,184.0 L482.2,185.5 L483.5,182.5 L482.2,179.5 L480.0,177.5 L479.0,175.5 M484.0,175.0 L486.0,176.5 L487.5,177.0 L487.2,175.0 M510.0,175.0 L512.5,179.0 L516.0,184.5 L519.0,190.0 L521.5,194.0 L524.0,192.0 L525.5,194.0 L524.0,197.0 L522.0,196.5 L521.0,198.5 L523.0,202.0 L525.5,205.5 L528.0,207.0 L529.5,205.0 L529.0,200.0 L528.5,196.0 L530.0,193.0 M522.0,200.0 L524.0,203.0 L526.0,206.0 L528.0,207.5 L529.0,204.5 L529.5,200.0 M534.0,200.0 L536.0,204.0 L537.5,208.0 L537.0,213.0 L537.5,218.0 L537.5,223.0 L539.0,225.5 L541.5,227.0 L543.0,228.5 L542.0,230.5 L539.5,231.0 L537.5,233.0 L536.0,235.5 L536.5,238.0 L537.5,241.0 L538.0,244.0 L536.5,246.0 L534.5,248.0 L533.5,250.0 M536.0,200.0 L538.5,206.0 L540.0,212.0 L541.0,218.0 L541.8,223.0 L543.0,227.0 M538.0,245.0 L535.5,247.0 L534.0,251.0 L531.5,254.0 L530.5,256.5 L531.0,259.5 L531.8,264.0 L532.2,268.5 L533.5,271.5 L534.5,276.0 L535.5,281.0 L536.2,287.0 L537.0,292.0 L537.5,295.0 M535.5,290.0 L536.5,294.0 L539.5,296.5 L540.5,300.0 L540.0,304.0 L538.5,307.5 L536.0,311.5 L533.0,314.5 L530.0,317.0 L526.5,318.5 L523.5,319.0 L523.0,322.0 L521.5,325.5 L518.5,328.0 L516.0,331.0 L513.0,334.0 L510.5,336.5 L509.5,340.0 M451.5,346.8 L453.5,346.5 L455.5,348.5 L455.0,351.0 L453.5,353.5 L453.0,355.5 L456.5,355.0 L460.5,353.5 L463.5,352.5 L466.0,352.0 L466.5,353.5 L464.5,355.0 L468.0,356.5 L471.0,357.5 L472.5,359.0 L471.0,361.5 L469.5,364.0 L467.0,366.0 L464.0,368.0 L461.5,367.0 L460.5,364.5 L460.0,362.5 L456.5,363.5 L452.0,363.5 L448.0,362.5 L446.2,360.5 L446.5,357.0 L448.0,353.0 L449.5,349.5 L451.5,346.8 M509.0,340.0 L507.0,345.0 L504.0,351.0 L500.0,356.5 L497.0,360.0 L494.0,362.5 L492.8,364.5 L492.0,368.0 L489.0,371.0 L485.0,373.5 L481.0,375.5 L476.5,376.5 L474.0,379.5 L473.0,381.0 L474.5,382.0 L479.0,381.5 L483.0,380.0 L484.5,378.5 L486.5,379.0 L488.0,377.5 L490.0,375.0 L492.0,372.0 L493.5,369.0 L494.0,365.5 L496.0,364.5 L499.0,362.5 L502.0,360.0 L504.5,358.0 L505.5,359.5 L505.0,364.0 L504.0,369.0 L502.5,374.0 L500.0,379.0 L497.5,384.0 L495.0,388.0 L494.0,390.0 M425.0,389.0 L429.0,386.5 L435.0,385.0 M425.0,403.0 L429.0,401.0 L433.0,398.0 L437.0,396.0 L438.5,398.0 L439.5,402.5 L439.0,406.5 L437.5,410.0 L435.0,413.5 L438.0,414.5 L441.0,415.0 L442.0,413.0 L441.8,410.0 L445.0,410.5 L450.0,410.8 L454.0,410.8 L457.0,409.5 L460.0,411.0 L464.0,410.2 L468.0,409.0 L472.0,407.8 L475.0,408.2 L477.5,409.0 L481.0,406.0 L485.0,401.5 L489.0,396.5 L493.0,390.5 L496.5,385.0 M425.0,417.0 L429.0,414.0 L433.0,412.5 L435.0,413.5 L438.0,414.8 L443.0,415.0 L448.0,416.0 L451.0,415.0 L454.0,415.5 L457.0,417.2 L460.0,416.8 L465.0,415.5 L469.0,413.5 L473.0,411.0 L477.0,409.5 L479.5,408.5 L484.0,404.5 L488.0,400.0 L492.0,395.0 L495.0,391.0 L497.0,389.0 L497.5,391.0 L496.5,394.0 L494.0,398.0 L490.0,403.0 L485.0,408.0 L479.0,413.0 L473.0,418.0 L467.0,423.0 L460.0,428.5 L453.0,434.5 M429.5,404.5 L432.0,401.5 L434.0,400.5 L433.5,402.0 L431.0,404.5 L429.5,404.5 M358.0,340.0 L357.0,344.0 L355.0,349.0 L352.0,353.0 L350.0,354.5 M371.5,340.0 L370.5,344.0 L368.5,348.5 L368.0,353.0 L369.5,356.5 L371.5,359.0 L371.5,363.0 L370.0,367.0 L369.5,371.0 L367.5,373.5 L365.0,375.5 L363.0,374.5 L360.5,372.0 L359.5,370.0 L358.0,369.0 L356.5,370.0 L355.0,373.0 L355.5,376.0 L356.5,379.0 L357.5,382.0 L354.0,383.5 L350.0,384.5 M358.5,375.0 L360.0,377.5 L363.0,379.0 L365.0,378.5 L363.5,376.5 L361.5,374.5 L358.5,375.0 M376.5,340.0 L374.5,344.0 L373.2,348.0 L373.5,352.0 L375.5,355.0 L378.5,356.8 L380.0,357.2 L382.0,355.0 L385.0,352.5 L388.0,351.5 L389.2,352.5 L387.5,355.0 L384.0,356.5 L381.0,358.0 L382.0,360.0 L384.5,361.5 L385.0,364.0 L383.0,365.0 L381.0,364.5 L380.0,367.0 L380.5,370.0 L381.5,372.0 L379.5,373.5 L377.0,375.0 L373.5,376.5 L370.0,378.0 L367.0,379.5 L364.0,379.0 L362.0,378.0 L360.0,377.5 M411.0,390.0 L411.5,385.0 L414.0,382.5 L417.5,382.0 L419.0,384.0 L421.5,381.5 L422.5,378.5 L424.0,376.0 L425.0,374.5 M157.0,205.0 L155.0,207.0 L151.5,209.0 L149.5,209.0 L147.5,212.0 L145.0,217.0 L142.5,224.0 L140.5,231.0 L139.0,238.0 L138.5,245.0 L137.0,251.0 L135.5,255.0 M141.0,255.0 L141.0,248.0 L142.0,242.0 L144.0,237.0 L146.5,235.0 L148.5,234.5 L151.5,236.5 L154.5,237.0 L156.0,239.5 L157.0,244.0 L157.5,249.0 L157.5,255.0 M157.5,255.0 L156.5,259.0 L157.0,262.5 L159.0,264.0 L159.5,268.0 L159.0,273.0 L158.0,276.0 L159.0,279.0 L157.5,282.0 L155.0,284.0 L153.0,287.0 L152.2,290.0 L153.0,292.0 L155.0,291.5 L157.5,289.0 L160.0,287.5 L162.5,287.5 L164.5,289.5 L167.0,293.5 L169.5,297.0 L172.0,300.0 L174.0,301.8 L176.0,301.2 L178.0,299.5 L179.5,298.2 L180.5,299.5 L179.0,300.5 L181.5,301.2 L184.0,303.0 L186.5,304.0 L188.0,305.0 M140.6,250.0 L141.2,256.0 L143.4,259.6 L144.4,261.4 L144.8,269.8 L142.6,270.2 L140.0,267.4 L138.2,264.6 L137.4,266.2 L137.6,271.0 L136.2,274.6 L133.8,275.8 L133.4,279.4 L135.0,282.2 L137.4,285.0 L138.3,281.4 L138.6,277.0 L139.4,272.2 M137.0,250.0 L136.4,255.4 L135.4,262.0 L134.2,269.2 L133.4,275.8 L132.8,281.2 L133.0,287.2 L134.0,293.2 L135.2,299.2 L136.4,302.8 L135.8,306.4 L136.6,310.0 M145.8,278.2 L147.0,281.8 L147.8,287.2 L148.6,293.2 L149.4,299.2 L149.6,305.2 L148.4,307.6 L147.2,302.8 L146.6,296.8 L146.0,289.6 L145.4,283.6 L145.8,278.2 M146.0,301.6 L144.8,304.0 L146.0,307.6 L147.8,310.0 M152.6,299.2 L153.8,298.0 L155.0,299.8 L153.8,301.6 L152.6,299.2 M155.4,298.6 L156.6,298.0 L156.8,301.6 L155.6,302.2 L155.4,298.6 M144.5,301.5 L145.5,306.0 L146.5,308.5 L148.5,306.0 L149.0,303.0 L150.0,308.0 L150.5,312.0 M148.0,314.5 L149.5,316.5 L150.5,320.0 L152.0,324.0 L154.0,328.0 L155.0,332.0 L154.0,333.0 L152.0,329.0 L150.0,324.5 L148.5,320.0 L147.5,316.0 L148.0,314.5 M155.5,337.5 L157.0,339.5 L158.5,342.5 L157.5,342.5 L156.0,340.0 L155.5,337.5 M135.0,300.0 L136.0,303.0 L137.0,302.0 M171.0,300.0 L173.0,302.0 L175.0,302.5 L177.0,301.0 L179.5,300.5 L181.0,302.5 L184.0,303.5 L187.0,304.5 L189.0,307.5 L190.5,310.5 L191.5,313.5 L193.0,312.0 L195.0,311.0 L197.5,313.0 L200.0,316.0 M185.0,304.0 L187.5,306.5 L190.0,310.0 L192.0,314.0 L193.5,311.5 L196.0,311.5 L198.5,314.0 L201.0,317.0 L203.5,319.5 L205.0,321.0 L202.5,321.5 L201.0,322.5 L202.5,324.5 L205.0,326.5 L207.5,328.5 L210.0,330.5 L212.0,331.5 L214.0,331.0 L213.5,329.5 L211.0,328.5 L209.5,326.5 L208.5,324.0 L209.0,321.5 L211.5,320.0 L214.0,320.0 L215.5,318.5 L215.0,316.0 L213.0,313.5 L210.0,311.0 L206.5,309.0 L203.5,307.2 L207.0,309.0 L211.0,311.0 L214.0,313.5 L217.0,315.5 L218.5,319.0 L219.5,322.0 L221.0,325.0 L223.5,327.5 L226.5,329.5 L229.0,331.0 L231.5,332.5 L233.0,331.0 L235.0,328.5 L236.5,325.5 L236.5,322.0 L236.0,318.5 L236.5,315.0 L239.0,312.5 L242.0,308.0 L245.0,305.0 L242.0,304.0 L239.0,303.5 L237.0,302.5 L238.0,300.0 L239.5,298.0 L242.0,297.0 L244.0,295.0 L244.0,292.0 L245.0,290.0 M217.0,333.0 L222.0,332.0 L227.0,331.8 L231.0,332.8 M249.0,290.0 L248.5,294.0 L249.0,298.0 L250.0,300.5 L251.5,298.5 L253.0,296.0 L254.0,298.5 L255.5,300.0 L257.5,298.0 L260.0,297.0 M208.8,330.0 L211.4,332.0 L214.8,332.7 L217.5,331.3 L218.8,334.0 L220.2,337.4 L221.5,340.7 L222.2,344.1 L223.5,346.8 L225.5,346.8 L228.2,344.1 L228.9,341.4 L227.5,338.7 L226.2,336.0 L228.2,334.0 L231.6,333.4 L234.9,332.0 L236.2,330.0 M263.1,330.0 L264.4,333.4 L266.4,336.0 L269.1,335.4 L271.8,333.4 L275.8,331.3 L279.1,330.0 M316.2,195.0 L313.5,197.7 L308.1,199.7 L301.4,202.4 L294.7,204.4 L289.3,205.7 L286.7,207.7 L286.0,211.8 L284.0,215.1 M265.2,256.7 L269.2,255.3 L273.3,256.7 L277.3,258.0 L280.0,260.7 L281.3,262.0 M282.6,259.3 L286.7,258.0 L290.7,259.3 L292.0,262.0 M298.7,258.0 L302.7,256.0 L306.8,257.3 L309.5,260.7 L310.8,262.0 M285.0,215.0 L283.0,217.0 L281.0,219.0 L279.0,221.0 L277.5,223.0 L275.0,224.5 L272.5,226.5 L270.0,228.0 L267.5,227.5 L266.0,230.0 L265.5,233.5 L263.0,234.5 L264.0,236.5 L266.5,236.5 L267.0,239.5 L265.5,241.5 L263.5,242.5 L261.5,245.0 L260.5,248.0 L261.5,250.5 L259.5,252.5 L262.0,254.5 L264.5,255.0 L267.0,253.0 L266.0,250.5 L264.5,249.0 L266.0,246.0 L268.0,245.5 L271.5,244.0 L275.0,243.0 L278.5,243.5 L281.0,245.0 L281.5,243.0 L280.0,241.0 L277.0,241.0 L280.5,240.0 L282.0,237.5 L283.0,234.5 L283.5,232.0 L281.5,229.0 L279.0,228.0 L276.5,229.0 L275.0,231.5 L273.5,234.0 L274.0,231.0 L275.5,228.5 L272.5,226.5 M281.5,224.0 L285.0,223.0 L288.0,224.5 L290.5,227.0 L292.5,229.0 L291.0,231.5 L289.0,233.5 L286.5,234.5 L284.5,232.5 L283.0,230.0 L281.5,227.0 L281.5,224.0 M287.0,239.5 L289.5,237.5 L292.0,236.5 L294.5,235.0 L296.5,234.0 L298.0,236.5 L298.5,240.0 L296.5,241.0 L294.5,239.5 L292.5,241.0 L290.5,243.5 L289.0,245.5 L287.0,244.5 L286.5,242.0 L287.0,239.5 M289.5,242.5 L291.0,240.5 L293.0,239.0 L295.0,237.5 M296.5,244.0 L298.5,243.5 L300.0,245.0 L301.0,246.5 L299.5,246.5 L297.5,245.5 L296.5,244.0 M296.0,251.5 L298.0,250.0 L300.5,250.0 L299.5,252.0 L297.5,253.5 L296.0,253.0 L296.0,251.5 M273.0,249.5 L275.5,247.5 L278.5,248.0 L280.5,249.5 L280.0,252.5 L277.5,254.0 L274.5,253.5 L273.0,251.5 L273.0,249.5 M284.5,251.5 L287.0,249.5 L289.5,250.0 L290.5,252.5 L289.0,254.5 L286.0,255.0 L284.5,253.5 L284.5,251.5 M257.0,265.0 L260.0,262.0 L264.0,260.0 L262.5,259.0 L266.0,258.0 L270.0,257.0 L274.0,256.0 L278.0,255.5 L280.5,257.0 L281.5,259.5 L279.5,261.0 L276.5,260.5 L273.5,260.0 L271.0,261.0 L268.5,263.0 L267.5,265.0 M246.2,290.0 L246.0,288.0 L245.5,285.0 L245.0,282.0 L243.0,280.5 L240.0,281.5 L237.0,282.5 L233.5,283.0 L230.5,284.5 L227.0,286.5 L223.5,286.0 L221.0,284.0 L219.5,282.5 L217.0,284.0 L214.0,285.0 L211.0,284.5 L210.2,282.0 L212.0,279.5 L215.0,277.5 L218.5,276.0 L220.0,273.0 L221.0,268.0 L223.0,263.5 L224.5,259.5 L225.5,256.0 L229.0,254.0 L231.5,252.0 L235.0,252.5 L238.5,254.0 L242.0,256.5 L245.0,259.0 L247.5,261.5 L249.0,264.5 L251.5,266.0 L254.0,266.5 L255.5,269.0 L257.5,271.0 L260.0,272.0 M245.0,268.0 L247.5,266.5 L251.0,266.2 L250.5,269.0 L249.0,272.0 L247.5,275.5 L246.0,274.0 L245.5,271.0 L245.0,268.0 M241.5,271.5 L243.5,271.8 L244.0,273.5 L242.0,273.5 L241.5,271.5 M241.0,277.5 L243.0,277.2 L243.2,279.0 L241.2,279.0 L241.0,277.5 M225.0,286.5 L229.0,285.2 L233.0,282.9 L237.7,281.8 L242.4,280.5 L244.6,281.8 L245.1,286.5 L245.1,291.2 L243.1,295.2 L239.7,297.9 L237.7,299.9 L238.4,302.6 L242.4,303.9 L243.8,305.9 L241.8,310.0 L239.1,314.7 L237.1,318.7 L236.4,322.0 M239.7,255.0 L243.1,257.7 L246.4,261.0 L248.9,265.5 L251.8,266.4 L253.8,266.8 L252.9,269.7 L250.7,273.1 L248.6,275.8 L246.4,274.0 L245.1,270.4 L246.0,267.1 L248.9,265.5 M269.2,256.3 L265.2,257.0 L263.2,259.0 L265.2,260.4 L262.5,263.0 L258.5,264.4 L255.2,267.7 L256.5,271.1 L259.9,272.4 L263.9,271.8 L267.2,269.7 L267.9,265.7 L269.5,262.4 L272.6,261.0 L276.6,261.7 L279.3,264.4 L280.2,267.7 L278.6,270.8 L276.6,271.4 L275.9,273.5 L277.9,274.6 L280.0,273.2 L280.8,271.1 L279.3,275.1 L276.6,277.8 L274.6,281.8 L272.6,285.8 L269.9,289.2 L268.6,293.2 L265.9,297.2 L262.8,299.2 L260.7,296.8 L259.3,293.9 L257.4,296.6 L255.3,299.5 L253.2,300.6 L251.3,298.7 L249.9,295.2 L249.9,291.2 L251.3,287.2 L250.5,283.4 L251.3,279.9 L253.8,279.4 L255.8,282.5 L258.5,283.8 L261.9,283.2 L264.5,280.7 L263.9,278.6 L261.2,278.5 L260.1,280.5 L262.0,281.3 M282.6,263.0 L283.3,267.1 L285.3,269.1 L287.3,266.4 L286.7,262.4 L288.7,260.4 L292.0,261.0 L294.7,260.4 M290.0,263.0 L290.7,267.7 L294.7,269.7 L300.1,271.8 L305.4,273.8 L310.8,273.1 L314.8,271.1 L314.5,267.1 L312.1,263.0 L308.8,259.7 L304.1,257.7 L299.4,257.0 L295.4,258.4 L292.0,260.4 L290.0,263.0 M294.7,263.0 L298.7,264.4 L302.7,263.7 M304.1,261.7 L304.8,265.1 M306.1,275.1 L302.7,275.1 L300.1,272.7 L297.4,273.8 L294.7,276.4 L292.7,279.1 L292.0,282.5 L293.4,285.8 L290.7,289.9 L288.0,293.2 L284.0,297.9 L280.6,301.2 L278.6,303.9 L279.3,306.6 L282.0,305.9 L283.4,303.5 L282.4,301.9 M279.3,306.6 L274.6,308.6 L271.2,311.3 L268.6,315.3 L266.6,319.3 L265.2,322.0 M290.0,258.8 L294.0,257.4 L299.4,256.8 L304.7,257.4 L310.1,260.1 L313.5,264.1 L315.5,268.8 L314.8,273.5 L311.4,274.2 L307.4,272.8 L303.4,274.2 L299.4,272.8 L296.7,274.2 L293.4,276.9 L292.0,280.2 L292.7,284.9 L291.3,289.6 L290.0,291.6 M296.7,260.1 L300.7,258.8 L303.4,261.4 L302.7,265.5 M314.8,273.5 L316.1,278.9 L318.8,280.2 L322.2,278.9 L325.5,279.5 L328.2,282.9 L326.9,285.6 L324.9,286.2 L328.2,287.6 L330.2,289.6 L331.6,291.6 L328.9,293.6 L326.2,296.3 L324.2,300.3 L322.2,304.3 L320.8,307.0 M290.0,242.7 L294.0,244.0 L296.7,242.7 L294.7,246.0 L291.3,246.7 L290.0,242.7 M296.7,251.4 L300.1,250.1 L299.4,252.7 L296.7,253.4 L296.7,251.4 M345.6,297.6 L348.3,293.6 L351.0,291.6 L354.3,292.3 L355.7,295.0 L353.7,297.6 L355.0,300.3 L356.4,302.3 L354.3,303.0 L352.3,301.0 L351.7,304.3 L349.7,306.4 L347.6,303.7 L346.3,300.3 L345.6,297.6 M362.4,282.2 L364.4,281.6 L365.1,284.2 L363.1,284.9 L362.4,282.2 M370.4,258.1 L373.8,255.4 L377.1,252.7 L380.5,251.4 L381.2,254.1 L378.5,256.8 L375.8,259.4 L372.4,260.1 L370.4,258.1 M283.8,300.0 L283.2,303.4 L281.1,304.7 L279.1,303.8 L275.1,307.4 L271.1,310.7 L267.7,315.4 L265.1,320.8 L263.0,326.1 L263.7,330.2 L265.7,333.5 L267.1,336.2 L269.7,334.2 L273.1,332.2 L277.1,330.2 L281.1,328.2 L285.2,327.5 L289.2,328.8 L293.2,328.2 L297.2,326.8 L301.2,328.2 L305.9,327.5 L310.0,326.1 L311.3,324.1 L309.3,322.8 L310.0,320.8 L312.6,320.1 L314.0,317.4 L316.7,316.1 L318.0,313.4 L320.7,311.4 L321.4,308.0 L322.7,305.4 L324.0,302.0 L324.7,300.0 M303.9,338.9 L306.6,337.5 L308.6,339.5 L311.3,340.9 L314.7,340.2 L317.3,341.6 L318.0,344.9 L316.0,347.6 L312.6,348.9 L309.3,348.9 L305.9,347.6 L303.9,344.9 L302.6,342.2 L303.9,338.9 M324.9,299.2 L322.9,303.3 L321.8,305.3 L320.8,307.3 L319.9,309.3 L319.5,311.3 L317.5,314.7 L314.8,318.0 L312.1,320.7 L310.8,322.0 M370.0,201.0 L372.7,205.7 L376.0,210.4 L380.1,211.8 L382.1,210.4 L384.1,212.4 L388.1,215.1 L390.1,217.1 L387.4,220.5 L385.4,223.8 L386.8,227.8 L390.1,229.2 L392.1,232.5 L391.4,235.9 L392.8,238.6 L390.8,241.2 L386.8,241.9 L384.1,243.9 L382.7,247.3 L384.1,250.6 L387.4,252.6 L389.4,256.7 L390.8,262.0 M373.4,212.4 L376.0,213.1 L375.4,215.1 L373.4,214.8 L373.4,212.4 M370.0,216.4 L372.0,219.1 L372.7,222.5 L370.0,223.8 M370.0,258.0 L374.0,254.7 L378.0,251.3 L380.7,252.0 L379.4,255.3 L375.4,258.0 L371.3,259.3 L370.0,258.0 M388.1,255.0 L390.1,259.0 L393.5,263.0 L396.1,265.1 L396.8,269.1 L400.2,270.4 L402.8,270.8 L401.5,272.4 L400.2,275.1 L397.5,276.4 L402.2,277.1 L406.2,279.1 L410.2,280.5 L414.2,281.8 L416.9,283.8 L418.3,287.2 L416.2,285.2 L412.9,283.2 L408.9,281.8 L404.2,280.5 L400.2,279.8 L396.8,279.8 L395.5,281.8 L397.5,283.8 L400.2,286.5 L403.5,288.5 L407.5,287.8 L410.2,288.5 L407.5,290.5 L404.2,292.5 L402.2,295.2 L402.8,298.6 L401.5,301.9 L400.2,305.3 L398.8,308.6 L398.8,312.6 L397.5,315.3 L396.1,317.3 L393.5,314.7 L391.4,316.0 L393.5,318.7 L396.8,318.0 M382.7,278.5 L384.1,279.1 L384.7,284.5 L386.8,291.2 L389.4,295.9 L392.8,298.6 L396.1,297.9 L394.1,300.6 L390.8,301.9 L388.1,299.2 L385.4,294.5 L383.4,288.5 L382.1,283.2 L382.7,278.5 M370.0,320.0 L375.4,321.4 L382.1,320.7 L388.8,320.4 L391.4,322.0 M345.7,297.0 L348.4,295.7 L351.8,296.3 L355.1,299.0 L356.4,301.0 L354.4,302.4 L353.1,301.0 L351.8,303.7 L351.1,306.4 L349.1,304.4 L347.1,301.7 L345.7,299.0 L345.7,297.0 M347.1,362.0 L347.7,358.0 L351.1,354.0 L354.4,348.6 L356.4,343.3 L358.5,336.6 L360.5,331.2 L363.2,327.2 L366.5,323.2 L369.9,320.5 L373.2,319.8 L375.2,322.5 L377.2,321.1 L381.2,320.5 L385.9,320.2 L390.0,320.5 L393.3,321.8 L394.0,325.2 L391.3,327.2 L387.9,327.8 L384.6,329.9 L387.9,331.2 L390.0,333.2 L393.3,333.9 L392.6,331.2 L396.0,329.2 L394.7,325.8 L394.0,322.5 L395.3,319.8 L397.3,317.8 L394.0,317.1 L391.3,316.4 L393.3,315.1 L396.7,315.1 L398.7,316.4 L398.0,313.8 L397.3,310.4 L399.3,307.7 L398.7,305.1 L401.4,303.0 L404.0,300.4 L404.7,297.7 L402.0,295.0 M386.6,295.0 L388.6,299.0 L391.3,301.7 L394.7,300.4 L396.7,297.7 L397.3,295.0 M383.9,362.0 L382.6,360.7 L381.9,358.0 L385.9,356.0 L388.6,354.0 L387.9,352.0 L384.6,353.3 L381.2,356.0 L378.6,356.7 L375.9,354.7 L373.9,351.3 L373.2,347.3 L374.9,343.3 L375.2,339.2 L373.2,338.6 L371.2,339.9 L370.5,343.9 L369.2,347.9 L367.8,352.6 L368.2,357.3 L370.1,360.7 L370.5,362.0 M327.5,371.4 L329.5,368.7 L332.2,369.4 L332.9,372.1 L334.2,371.4 L333.6,374.7 L334.9,378.1 L336.9,382.1 L339.6,385.5 L341.6,388.1 L340.9,390.2 L337.6,391.5 L333.6,392.2 L330.2,392.8 L326.9,394.2 L325.5,392.8 L328.2,391.5 L328.9,389.5 L327.5,387.5 L329.5,386.1 L330.2,383.4 L328.2,380.8 L328.9,377.4 L326.9,374.7 L327.5,371.4 M317.5,383.4 L320.2,380.1 L323.5,378.8 L326.2,380.1 L326.5,383.4 L324.9,386.1 L321.5,387.5 L318.2,388.1 L316.1,386.8 L317.5,383.4 M347.6,362.0 L349.7,366.0 L352.3,368.7 L355.0,368.0 L357.7,365.4 L359.7,363.3 L361.0,362.0 M361.0,362.0 L362.4,366.0 L363.7,370.0 L365.1,373.4 L365.1,376.7 L362.4,379.4 L358.4,381.4 L354.3,382.8 L350.3,384.8 L347.6,387.5 L345.0,390.8 L341.6,393.5 L337.6,395.5 L334.2,397.5 L330.2,397.9 L328.2,399.5 L330.2,401.5 L332.9,403.6 L334.9,406.2 L334.9,410.3 L332.9,411.6 L328.9,410.9 L323.5,410.3 L318.2,409.6 L314.8,410.9 L314.1,415.6 L312.8,419.6 L312.1,423.0 L314.1,425.7 L316.1,429.0 M355.7,372.7 L357.0,370.7 L359.0,372.1 L359.7,375.4 L361.7,378.1 L363.1,376.1 L362.4,373.4 M330.2,429.0 L334.2,426.3 L337.6,423.0 L340.3,419.6 L343.6,417.0 L347.0,413.6 L350.3,412.3 L354.3,410.9 L358.4,409.6 L361.7,408.9 M365.1,376.7 L367.7,374.7 L370.4,371.4 L370.4,367.4 L372.4,364.0 L373.8,362.0 M314.3,410.0 L315.0,414.0 L313.0,418.0 L311.7,421.4 L313.0,424.7 L316.4,426.1 L319.7,426.8 L322.4,428.8 L325.7,427.4 L330.4,427.4 L335.1,425.4 L337.8,422.7 L339.8,419.4 L342.5,416.7 L346.5,414.7 L349.2,412.7 L350.5,412.0 M322.4,428.8 L318.4,430.8 L313.7,432.8 L310.3,434.8 L308.3,437.5 L305.6,439.5 L300.9,440.2 L295.6,441.5 L290.2,443.5 L285.5,444.9 L282.2,446.2 L281.5,448.9 L282.2,450.9 L280.2,452.9 L277.5,452.9 L278.8,454.9 L280.8,456.9 L284.9,459.6 L290.2,462.3 L295.6,464.3 L300.9,465.6 M322.4,428.8 L326.4,430.1 L331.1,430.8 L335.8,429.4 L341.2,428.1 L346.5,427.2 L350.5,426.8 M345.0,427.1 L350.4,426.4 L357.1,425.1 L363.8,424.4 L368.5,425.1 L370.5,427.1 L369.1,429.8 L371.1,431.8 L375.8,431.1 L381.2,430.5 L385.2,431.8 L389.2,431.1 L393.9,430.5 L397.9,429.1 L399.3,426.4 L401.3,424.4 L405.3,423.1 L410.7,421.8 L416.0,419.7 L421.4,417.7 L425.4,416.4 L430.8,413.7 L434.8,411.7 L438.8,410.4 L441.5,408.4 M406.0,415.1 L409.3,414.1 L413.4,413.7 L413.6,414.7 L410.0,415.7 L406.7,416.4 L406.0,415.1 M411.0,384.0 L413.5,382.5 L416.5,382.0 L418.5,381.5 L419.5,383.5 L421.5,382.0 L422.0,380.0 L421.0,378.0 L423.5,375.5 L426.0,372.5 L427.5,370.5 L428.0,372.0 L427.0,375.0 L425.0,378.0 L428.0,377.5 L431.5,376.5 L435.0,375.8 L439.0,375.0 L441.2,376.0 L441.5,378.5 L440.0,381.0 L437.5,383.0 L434.5,384.5 L431.0,386.0 L427.5,387.5 L424.5,389.5 L422.0,391.5 L419.5,394.0 L417.0,396.0 L414.0,397.5 L411.5,398.5 L409.5,397.0 L409.5,394.0 L410.0,390.5 L410.5,387.0 L411.0,384.0 M411.5,398.5 L410.5,401.0 M399.0,407.0 L402.0,404.0 L406.0,402.5 L409.5,402.5 L410.5,404.5 L412.5,406.5 L415.5,408.0 L419.0,407.5 L422.5,406.0 L425.0,404.5 L428.0,403.5 L431.0,401.0 L434.0,398.0 L436.5,395.5 L438.5,398.0 M429.5,404.5 L431.0,402.0 L433.5,400.2 L434.0,401.5 L432.5,403.5 L430.5,405.0 L429.5,404.5 M399.0,407.0 L400.5,409.5 L402.5,410.5 L404.5,409.0 L405.0,412.0 L403.5,414.0 M361.7,408.9 L365.0,408.5 L368.0,411.0 L372.5,413.5 L378.0,414.5 L383.0,414.7 L385.0,415.0 L385.2,416.2 L383.8,417.0 L384.5,415.5 L386.0,414.0 L388.0,412.5 L389.2,411.5 L386.0,411.0 L382.0,410.0 L378.0,408.5 L374.0,407.0 L371.0,405.5 L369.8,404.0 L370.5,402.5 L373.5,402.5 L377.0,404.0 L381.0,405.5 L386.0,406.5 L390.0,407.0 L391.0,408.0 L394.0,410.0 L397.0,412.5 L399.0,414.5 L402.0,415.0 L403.5,413.5 L403.0,411.0 L401.5,409.0 L400.0,407.5 L402.0,405.5 L405.0,403.5 L408.0,402.5 L410.0,401.0 L413.0,398.8 L411.0,396.0 L410.0,393.0 L409.5,390.0 M374.0,421.0 L378.0,420.0 L382.0,419.5 L383.0,421.0 L382.0,422.5 L378.0,422.5 L374.5,422.2 L374.0,421.0 M361.5,416.2 L363.5,415.8 L365.0,417.5 L364.8,420.0 L363.0,420.8 L361.2,419.8 L361.0,417.8 L361.5,416.2 M361.8,411.8 L363.2,411.5 L363.6,413.5 L362.4,414.5 L361.6,413.2 L361.8,411.8 M365.0,214.0 L368.0,213.0 L370.0,216.0 L373.0,219.0 L374.0,222.0 L371.0,223.0 L368.0,220.0 L365.4,217.0 L365.0,214.0 M372.0,213.0 L376.0,212.0 L377.0,215.0 L374.0,216.0 L372.0,213.0 M255.0,82.6 L258.0,81.6 L262.0,81.8 L266.0,81.0 M270.6,80.2 L272.0,79.8" fill="none" stroke="#000" stroke-width="1.39" stroke-linejoin="round" stroke-linecap="butt"/>
</g>
<circle cx="338.5" cy="260.5" r="208.4" fill="none" stroke="#000" stroke-width="1.11"/>
<clipPath id="clip547"><circle cx="885.5" cy="260.5" r="208.4"/></clipPath>
<g clip-path="url(#clip547)">
<g fill="none" stroke="#808080" stroke-opacity="0.5" stroke-width="1.39" stroke-dasharray="5.14 2.22"><circle cx="885.5" cy="260.5" r="195.83"/><circle cx="885.5" cy="260.5" r="159.64"/><circle cx="885.5" cy="260.5" r="104.20"/><circle cx="885.5" cy="260.5" r="36.19"/><line x1="885.50" y1="468.90" x2="885.50" y2="263.00"/><line x1="1065.98" y1="364.70" x2="887.67" y2="261.75"/><line x1="1065.98" y1="156.30" x2="887.67" y2="259.25"/><line x1="885.50" y1="52.10" x2="885.50" y2="258.00"/><line x1="705.02" y1="156.30" x2="883.33" y2="259.25"/><line x1="705.02" y1="364.70" x2="883.33" y2="261.75"/></g>
<path transform="translate(547.0,0)" d="M149.5,209.5 L155.0,205.0 L161.5,198.5 L166.0,194.5 L170.0,192.0 L174.5,190.5 L177.0,187.5 L177.5,186.0 L174.0,186.2 L170.0,188.0 L164.5,191.0 L160.0,194.5 L157.8,196.0 L158.5,195.0 L162.5,190.0 L166.5,189.0 L170.0,184.0 L171.5,182.8 L172.0,184.5 L174.5,182.5 L179.0,181.0 L183.5,180.0 L187.0,177.0 L190.5,173.5 L196.0,172.0 L204.0,170.5 L209.0,171.5 L213.0,175.0 L215.0,176.5 M213.0,175.5 L215.0,177.5 L218.5,180.0 L222.0,181.5 L225.0,182.6 L229.0,182.2 L233.0,181.5 L236.0,181.5 L239.5,181.0 L243.0,181.8 L247.0,182.2 L250.0,181.5 L253.0,183.0 L257.0,183.2 L259.5,184.2 L262.0,182.0 L265.0,180.0 L270.0,179.2 L275.0,177.5 L278.0,175.5 L280.0,175.0 M219.0,184.8 L222.5,183.5 L226.5,181.5 L230.5,179.5 L234.0,178.2 L235.0,179.0 L233.0,181.2 L229.0,183.5 L225.0,185.0 L222.0,186.0 L219.8,185.7 L219.0,184.8 M242.2,176.0 L245.0,175.5 L248.5,175.8 L249.5,177.2 L247.5,179.0 L246.0,177.5 L244.0,176.8 L242.2,176.0 M270.0,180.0 L274.0,178.5 L278.5,176.0 L283.0,174.0 L283.5,172.5 L284.2,174.5 L285.0,171.0 L286.5,168.0 L288.5,166.5 L290.5,165.8 L290.0,170.0 L289.2,172.5 L288.6,173.0 L289.0,170.0 L290.0,166.2 L291.0,163.5 L290.5,160.5 L292.5,157.0 L294.5,153.5 L296.5,150.5 L300.0,148.5 L303.5,145.5 L307.0,143.8 L305.0,146.2 L302.0,149.2 L299.0,151.2 L297.5,153.2 L296.5,156.0 L296.2,159.0 L297.0,161.0 L298.5,159.5 L301.0,158.5 L303.5,159.0 L305.0,158.0 L306.0,160.0 L308.5,161.0 L311.0,160.5 L312.5,159.0 L314.5,158.8 L315.5,160.0 L314.0,161.0 L313.5,162.5 L314.0,165.0 L313.5,168.0 L312.0,170.0 L310.0,170.5 L309.0,172.5 L308.5,174.5 L309.5,177.0 L310.0,175.0 L313.0,174.5 L316.5,175.0 L319.0,175.5 L320.0,177.0 L319.0,179.0 L317.0,180.0 L314.0,180.5 L312.5,181.0 L314.5,182.5 L317.0,184.0 L319.0,185.5 L320.5,186.5 L321.0,188.5 L319.0,190.0 M286.5,161.5 L287.5,159.0 L289.5,158.2 L290.5,159.5 L289.5,161.5 L287.5,162.5 L286.5,161.5 M320.0,168.8 L322.5,168.4 L325.5,169.0 L322.5,169.6 L320.0,168.8 M345.0,163.5 L342.0,164.0 L340.0,164.5 L339.0,166.5 L340.0,168.5 L341.5,170.0 L342.5,171.5 L340.0,172.0 L338.5,174.5 L337.0,176.0 L336.0,174.5 L334.0,173.5 L331.5,172.5 L329.0,171.0 L327.0,172.0 L326.0,174.5 L324.0,176.5 L324.5,178.0 L327.0,179.5 L330.0,179.0 L330.5,177.8 L331.2,179.5 L334.0,182.5 L338.0,185.5 L342.0,188.0 L345.0,189.5 M368.0,160.0 L370.5,157.5 L372.5,155.5 L371.0,153.5 L371.5,150.5 L373.5,149.0 L375.0,148.5 L375.5,146.5 L378.0,145.5 L380.5,143.5 L383.5,144.0 L385.0,142.0 L388.0,140.5 L390.2,140.2 L390.0,143.0 L389.5,147.0 L388.0,152.0 L385.0,155.0 L381.0,157.5 L377.0,159.5 L376.0,160.0 M335.0,175.5 L337.0,176.0 L337.5,174.0 L340.0,172.5 L342.0,171.0 L340.5,168.0 L339.5,165.0 L342.0,164.5 L346.0,163.0 L351.0,160.5 L354.5,158.0 L356.0,158.0 L357.5,160.0 L361.0,159.5 L364.0,159.0 L367.0,160.0 L369.5,158.5 L372.0,156.0 L372.5,155.0 M387.0,155.0 L385.0,156.5 L382.0,158.0 L378.0,159.5 L374.0,161.5 L370.0,163.5 L367.0,165.0 L365.0,167.5 L364.5,168.5 L366.5,167.5 L369.0,165.5 L372.0,164.5 L373.5,165.0 L373.5,167.0 L374.5,168.5 L377.0,169.0 L380.0,168.0 L382.5,166.5 L384.0,164.5 L386.0,164.5 L389.5,165.5 L390.0,167.5 L392.5,169.5 L396.0,171.5 L399.0,173.5 L402.0,175.0 L405.0,176.0 L410.0,176.0 M335.0,183.5 L337.0,185.0 L340.0,187.5 L344.0,189.0 L348.0,190.0 L350.0,190.5 L350.5,187.5 L352.0,187.0 L353.5,189.0 L356.5,190.5 L360.0,192.0 L362.5,193.0 L363.5,196.0 L366.0,198.0 L369.0,200.0 L370.5,203.0 L371.0,205.0 M336.0,193.5 L338.0,192.5 L339.5,193.0 L338.5,194.5 L336.5,194.5 L336.0,193.5 M423.5,135.5 L426.0,136.5 L430.0,137.5 L432.0,136.0 L433.0,138.5 L434.5,140.5 L432.5,142.5 L430.0,144.0 L428.0,145.0 L426.5,143.0 L425.0,140.0 L423.2,138.0 L423.5,135.5 M436.0,140.0 L436.5,136.5 L438.0,134.0 L441.0,133.5 L443.5,131.0 L446.0,129.5 L449.0,130.0 L452.0,132.0 L454.5,134.0 L458.0,135.5 L460.0,137.0 L462.0,139.0 L464.5,140.5 L467.0,142.0 L469.0,144.0 L471.5,144.0 L474.0,145.0 L474.5,147.0 L473.0,148.5 L470.0,148.0 L468.0,146.0 L465.0,145.0 L462.0,143.0 L459.0,140.5 L456.0,139.5 L453.0,140.0 L451.0,138.5 L448.0,137.0 L445.0,136.5 L442.0,137.5 L439.5,139.5 L438.0,142.0 L436.0,142.5 L435.0,141.0 L436.0,140.0 M412.5,164.0 L414.0,160.0 L416.0,155.0 L417.5,149.5 L419.0,151.0 L420.0,153.0 L422.5,150.0 L425.0,146.0 L426.2,141.0 L428.0,140.5 L430.0,145.0 L427.5,148.0 L424.0,152.0 L421.0,155.5 L418.5,159.0 L416.0,162.0 L413.5,163.5 L412.5,164.0 M400.0,174.0 L404.0,175.5 L410.0,175.0 L417.0,175.0 L423.5,175.0 L421.5,171.5 L419.5,169.5 L417.5,168.5 L417.0,165.0 L418.0,162.5 L420.0,160.0 L422.5,157.5 L426.0,155.0 L430.0,154.2 L435.0,153.5 L440.0,153.5 L445.0,153.8 L448.0,154.5 L450.5,156.5 L451.5,159.0 L454.5,160.0 L458.0,160.5 L460.0,161.5 L463.0,162.0 L465.5,163.0 M466.0,141.5 L469.0,143.0 L472.5,143.5 L474.5,145.0 L473.5,147.5 L473.0,149.5 L471.0,148.5 L468.0,147.5 L465.0,145.5 M455.0,160.0 L459.0,159.0 L463.0,160.5 L465.5,162.5 L467.5,160.0 L467.5,156.0 L469.0,154.0 L471.5,153.8 L474.0,155.0 L476.5,158.0 L475.0,160.5 L473.0,161.0 L473.5,164.0 L472.0,165.5 L470.0,168.0 L471.0,170.5 L473.0,173.0 L475.5,175.5 L477.5,177.0 L478.5,174.0 L478.5,171.5 L480.0,174.0 L483.0,176.0 L486.5,177.0 L487.5,174.0 L488.5,170.0 L490.0,166.5 L492.5,164.5 L495.0,164.5 L497.5,166.5 L501.0,168.0 L505.0,170.0 L508.0,172.5 L510.5,176.0 L512.5,180.0 M498.5,162.0 L500.5,161.0 L503.0,161.5 L504.5,163.0 L503.5,164.5 L501.0,164.5 L499.0,163.5 L498.5,162.0 M506.5,146.5 L507.5,148.5 L508.5,151.5 L509.5,154.5 L511.0,157.0 L512.0,159.5 L510.5,160.5 L508.5,159.5 L506.5,157.5 L506.0,155.5 L507.5,154.0 L508.5,154.0 L507.0,150.0 L506.5,146.5 M472.0,175.5 L473.0,178.5 L476.5,181.5 L480.0,184.0 L482.2,185.5 L483.5,182.5 L482.2,179.5 L480.0,177.5 L479.0,175.5 M484.0,175.0 L486.0,176.5 L487.5,177.0 L487.2,175.0 M510.0,175.0 L512.5,179.0 L516.0,184.5 L519.0,190.0 L521.5,194.0 L524.0,192.0 L525.5,194.0 L524.0,197.0 L522.0,196.5 L521.0,198.5 L523.0,202.0 L525.5,205.5 L528.0,207.0 L529.5,205.0 L529.0,200.0 L528.5,196.0 L530.0,193.0 M522.0,200.0 L524.0,203.0 L526.0,206.0 L528.0,207.5 L529.0,204.5 L529.5,200.0 M534.0,200.0 L536.0,204.0 L537.5,208.0 L537.0,213.0 L537.5,218.0 L537.5,223.0 L539.0,225.5 L541.5,227.0 L543.0,228.5 L542.0,230.5 L539.5,231.0 L537.5,233.0 L536.0,235.5 L536.5,238.0 L537.5,241.0 L538.0,244.0 L536.5,246.0 L534.5,248.0 L533.5,250.0 M536.0,200.0 L538.5,206.0 L540.0,212.0 L541.0,218.0 L541.8,223.0 L543.0,227.0 M538.0,245.0 L535.5,247.0 L534.0,251.0 L531.5,254.0 L530.5,256.5 L531.0,259.5 L531.8,264.0 L532.2,268.5 L533.5,271.5 L534.5,276.0 L535.5,281.0 L536.2,287.0 L537.0,292.0 L537.5,295.0 M535.5,290.0 L536.5,294.0 L539.5,296.5 L540.5,300.0 L540.0,304.0 L538.5,307.5 L536.0,311.5 L533.0,314.5 L530.0,317.0 L526.5,318.5 L523.5,319.0 L523.0,322.0 L521.5,325.5 L518.5,328.0 L516.0,331.0 L513.0,334.0 L510.5,336.5 L509.5,340.0 M451.5,346.8 L453.5,346.5 L455.5,348.5 L455.0,351.0 L453.5,353.5 L453.0,355.5 L456.5,355.0 L460.5,353.5 L463.5,352.5 L466.0,352.0 L466.5,353.5 L464.5,355.0 L468.0,356.5 L471.0,357.5 L472.5,359.0 L471.0,361.5 L469.5,364.0 L467.0,366.0 L464.0,368.0 L461.5,367.0 L460.5,364.5 L460.0,362.5 L456.5,363.5 L452.0,363.5 L448.0,362.5 L446.2,360.5 L446.5,357.0 L448.0,353.0 L449.5,349.5 L451.5,346.8 M509.0,340.0 L507.0,345.0 L504.0,351.0 L500.0,356.5 L497.0,360.0 L494.0,362.5 L492.8,364.5 L492.0,368.0 L489.0,371.0 L485.0,373.5 L481.0,375.5 L476.5,376.5 L474.0,379.5 L473.0,381.0 L474.5,382.0 L479.0,381.5 L483.0,380.0 L484.5,378.5 L486.5,379.0 L488.0,377.5 L490.0,375.0 L492.0,372.0 L493.5,369.0 L494.0,365.5 L496.0,364.5 L499.0,362.5 L502.0,360.0 L504.5,358.0 L505.5,359.5 L505.0,364.0 L504.0,369.0 L502.5,374.0 L500.0,379.0 L497.5,384.0 L495.0,388.0 L494.0,390.0 M425.0,389.0 L429.0,386.5 L435.0,385.0 M425.0,403.0 L429.0,401.0 L433.0,398.0 L437.0,396.0 L438.5,398.0 L439.5,402.5 L439.0,406.5 L437.5,410.0 L435.0,413.5 L438.0,414.5 L441.0,415.0 L442.0,413.0 L441.8,410.0 L445.0,410.5 L450.0,410.8 L454.0,410.8 L457.0,409.5 L460.0,411.0 L464.0,410.2 L468.0,409.0 L472.0,407.8 L475.0,408.2 L477.5,409.0 L481.0,406.0 L485.0,401.5 L489.0,396.5 L493.0,390.5 L496.5,385.0 M425.0,417.0 L429.0,414.0 L433.0,412.5 L435.0,413.5 L438.0,414.8 L443.0,415.0 L448.0,416.0 L451.0,415.0 L454.0,415.5 L457.0,417.2 L460.0,416.8 L465.0,415.5 L469.0,413.5 L473.0,411.0 L477.0,409.5 L479.5,408.5 L484.0,404.5 L488.0,400.0 L492.0,395.0 L495.0,391.0 L497.0,389.0 L497.5,391.0 L496.5,394.0 L494.0,398.0 L490.0,403.0 L485.0,408.0 L479.0,413.0 L473.0,418.0 L467.0,423.0 L460.0,428.5 L453.0,434.5 M429.5,404.5 L432.0,401.5 L434.0,400.5 L433.5,402.0 L431.0,404.5 L429.5,404.5 M358.0,340.0 L357.0,344.0 L355.0,349.0 L352.0,353.0 L350.0,354.5 M371.5,340.0 L370.5,344.0 L368.5,348.5 L368.0,353.0 L369.5,356.5 L371.5,359.0 L371.5,363.0 L370.0,367.0 L369.5,371.0 L367.5,373.5 L365.0,375.5 L363.0,374.5 L360.5,372.0 L359.5,370.0 L358.0,369.0 L356.5,370.0 L355.0,373.0 L355.5,376.0 L356.5,379.0 L357.5,382.0 L354.0,383.5 L350.0,384.5 M358.5,375.0 L360.0,377.5 L363.0,379.0 L365.0,378.5 L363.5,376.5 L361.5,374.5 L358.5,375.0 M376.5,340.0 L374.5,344.0 L373.2,348.0 L373.5,352.0 L375.5,355.0 L378.5,356.8 L380.0,357.2 L382.0,355.0 L385.0,352.5 L388.0,351.5 L389.2,352.5 L387.5,355.0 L384.0,356.5 L381.0,358.0 L382.0,360.0 L384.5,361.5 L385.0,364.0 L383.0,365.0 L381.0,364.5 L380.0,367.0 L380.5,370.0 L381.5,372.0 L379.5,373.5 L377.0,375.0 L373.5,376.5 L370.0,378.0 L367.0,379.5 L364.0,379.0 L362.0,378.0 L360.0,377.5 M411.0,390.0 L411.5,385.0 L414.0,382.5 L417.5,382.0 L419.0,384.0 L421.5,381.5 L422.5,378.5 L424.0,376.0 L425.0,374.5 M157.0,205.0 L155.0,207.0 L151.5,209.0 L149.5,209.0 L147.5,212.0 L145.0,217.0 L142.5,224.0 L140.5,231.0 L139.0,238.0 L138.5,245.0 L137.0,251.0 L135.5,255.0 M141.0,255.0 L141.0,248.0 L142.0,242.0 L144.0,237.0 L146.5,235.0 L148.5,234.5 L151.5,236.5 L154.5,237.0 L156.0,239.5 L157.0,244.0 L157.5,249.0 L157.5,255.0 M157.5,255.0 L156.5,259.0 L157.0,262.5 L159.0,264.0 L159.5,268.0 L159.0,273.0 L158.0,276.0 L159.0,279.0 L157.5,282.0 L155.0,284.0 L153.0,287.0 L152.2,290.0 L153.0,292.0 L155.0,291.5 L157.5,289.0 L160.0,287.5 L162.5,287.5 L164.5,289.5 L167.0,293.5 L169.5,297.0 L172.0,300.0 L174.0,301.8 L176.0,301.2 L178.0,299.5 L179.5,298.2 L180.5,299.5 L179.0,300.5 L181.5,301.2 L184.0,303.0 L186.5,304.0 L188.0,305.0 M140.6,250.0 L141.2,256.0 L143.4,259.6 L144.4,261.4 L144.8,269.8 L142.6,270.2 L140.0,267.4 L138.2,264.6 L137.4,266.2 L137.6,271.0 L136.2,274.6 L133.8,275.8 L133.4,279.4 L135.0,282.2 L137.4,285.0 L138.3,281.4 L138.6,277.0 L139.4,272.2 M137.0,250.0 L136.4,255.4 L135.4,262.0 L134.2,269.2 L133.4,275.8 L132.8,281.2 L133.0,287.2 L134.0,293.2 L135.2,299.2 L136.4,302.8 L135.8,306.4 L136.6,310.0 M145.8,278.2 L147.0,281.8 L147.8,287.2 L148.6,293.2 L149.4,299.2 L149.6,305.2 L148.4,307.6 L147.2,302.8 L146.6,296.8 L146.0,289.6 L145.4,283.6 L145.8,278.2 M146.0,301.6 L144.8,304.0 L146.0,307.6 L147.8,310.0 M152.6,299.2 L153.8,298.0 L155.0,299.8 L153.8,301.6 L152.6,299.2 M155.4,298.6 L156.6,298.0 L156.8,301.6 L155.6,302.2 L155.4,298.6 M144.5,301.5 L145.5,306.0 L146.5,308.5 L148.5,306.0 L149.0,303.0 L150.0,308.0 L150.5,312.0 M148.0,314.5 L149.5,316.5 L150.5,320.0 L152.0,324.0 L154.0,328.0 L155.0,332.0 L154.0,333.0 L152.0,329.0 L150.0,324.5 L148.5,320.0 L147.5,316.0 L148.0,314.5 M155.5,337.5 L157.0,339.5 L158.5,342.5 L157.5,342.5 L156.0,340.0 L155.5,337.5 M135.0,300.0 L136.0,303.0 L137.0,302.0 M171.0,300.0 L173.0,302.0 L175.0,302.5 L177.0,301.0 L179.5,300.5 L181.0,302.5 L184.0,303.5 L187.0,304.5 L189.0,307.5 L190.5,310.5 L191.5,313.5 L193.0,312.0 L195.0,311.0 L197.5,313.0 L200.0,316.0 M185.0,304.0 L187.5,306.5 L190.0,310.0 L192.0,314.0 L193.5,311.5 L196.0,311.5 L198.5,314.0 L201.0,317.0 L203.5,319.5 L205.0,321.0 L202.5,321.5 L201.0,322.5 L202.5,324.5 L205.0,326.5 L207.5,328.5 L210.0,330.5 L212.0,331.5 L214.0,331.0 L213.5,329.5 L211.0,328.5 L209.5,326.5 L208.5,324.0 L209.0,321.5 L211.5,320.0 L214.0,320.0 L215.5,318.5 L215.0,316.0 L213.0,313.5 L210.0,311.0 L206.5,309.0 L203.5,307.2 L207.0,309.0 L211.0,311.0 L214.0,313.5 L217.0,315.5 L218.5,319.0 L219.5,322.0 L221.0,325.0 L223.5,327.5 L226.5,329.5 L229.0,331.0 L231.5,332.5 L233.0,331.0 L235.0,328.5 L236.5,325.5 L236.5,322.0 L236.0,318.5 L236.5,315.0 L239.0,312.5 L242.0,308.0 L245.0,305.0 L242.0,304.0 L239.0,303.5 L237.0,302.5 L238.0,300.0 L239.5,298.0 L242.0,297.0 L244.0,295.0 L244.0,292.0 L245.0,290.0 M217.0,333.0 L222.0,332.0 L227.0,331.8 L231.0,332.8 M249.0,290.0 L248.5,294.0 L249.0,298.0 L250.0,300.5 L251.5,298.5 L253.0,296.0 L254.0,298.5 L255.5,300.0 L257.5,298.0 L260.0,297.0 M208.8,330.0 L211.4,332.0 L214.8,332.7 L217.5,331.3 L218.8,334.0 L220.2,337.4 L221.5,340.7 L222.2,344.1 L223.5,346.8 L225.5,346.8 L228.2,344.1 L228.9,341.4 L227.5,338.7 L226.2,336.0 L228.2,334.0 L231.6,333.4 L234.9,332.0 L236.2,330.0 M263.1,330.0 L264.4,333.4 L266.4,336.0 L269.1,335.4 L271.8,333.4 L275.8,331.3 L279.1,330.0 M316.2,195.0 L313.5,197.7 L308.1,199.7 L301.4,202.4 L294.7,204.4 L289.3,205.7 L286.7,207.7 L286.0,211.8 L284.0,215.1 M265.2,256.7 L269.2,255.3 L273.3,256.7 L277.3,258.0 L280.0,260.7 L281.3,262.0 M282.6,259.3 L286.7,258.0 L290.7,259.3 L292.0,262.0 M298.7,258.0 L302.7,256.0 L306.8,257.3 L309.5,260.7 L310.8,262.0 M285.0,215.0 L283.0,217.0 L281.0,219.0 L279.0,221.0 L277.5,223.0 L275.0,224.5 L272.5,226.5 L270.0,228.0 L267.5,227.5 L266.0,230.0 L265.5,233.5 L263.0,234.5 L264.0,236.5 L266.5,236.5 L267.0,239.5 L265.5,241.5 L263.5,242.5 L261.5,245.0 L260.5,248.0 L261.5,250.5 L259.5,252.5 L262.0,254.5 L264.5,255.0 L267.0,253.0 L266.0,250.5 L264.5,249.0 L266.0,246.0 L268.0,245.5 L271.5,244.0 L275.0,243.0 L278.5,243.5 L281.0,245.0 L281.5,243.0 L280.0,241.0 L277.0,241.0 L280.5,240.0 L282.0,237.5 L283.0,234.5 L283.5,232.0 L281.5,229.0 L279.0,228.0 L276.5,229.0 L275.0,231.5 L273.5,234.0 L274.0,231.0 L275.5,228.5 L272.5,226.5 M281.5,224.0 L285.0,223.0 L288.0,224.5 L290.5,227.0 L292.5,229.0 L291.0,231.5 L289.0,233.5 L286.5,234.5 L284.5,232.5 L283.0,230.0 L281.5,227.0 L281.5,224.0 M287.0,239.5 L289.5,237.5 L292.0,236.5 L294.5,235.0 L296.5,234.0 L298.0,236.5 L298.5,240.0 L296.5,241.0 L294.5,239.5 L292.5,241.0 L290.5,243.5 L289.0,245.5 L287.0,244.5 L286.5,242.0 L287.0,239.5 M289.5,242.5 L291.0,240.5 L293.0,239.0 L295.0,237.5 M296.5,244.0 L298.5,243.5 L300.0,245.0 L301.0,246.5 L299.5,246.5 L297.5,245.5 L296.5,244.0 M296.0,251.5 L298.0,250.0 L300.5,250.0 L299.5,252.0 L297.5,253.5 L296.0,253.0 L296.0,251.5 M273.0,249.5 L275.5,247.5 L278.5,248.0 L280.5,249.5 L280.0,252.5 L277.5,254.0 L274.5,253.5 L273.0,251.5 L273.0,249.5 M284.5,251.5 L287.0,249.5 L289.5,250.0 L290.5,252.5 L289.0,254.5 L286.0,255.0 L284.5,253.5 L284.5,251.5 M257.0,265.0 L260.0,262.0 L264.0,260.0 L262.5,259.0 L266.0,258.0 L270.0,257.0 L274.0,256.0 L278.0,255.5 L280.5,257.0 L281.5,259.5 L279.5,261.0 L276.5,260.5 L273.5,260.0 L271.0,261.0 L268.5,263.0 L267.5,265.0 M246.2,290.0 L246.0,288.0 L245.5,285.0 L245.0,282.0 L243.0,280.5 L240.0,281.5 L237.0,282.5 L233.5,283.0 L230.5,284.5 L227.0,286.5 L223.5,286.0 L221.0,284.0 L219.5,282.5 L217.0,284.0 L214.0,285.0 L211.0,284.5 L210.2,282.0 L212.0,279.5 L215.0,277.5 L218.5,276.0 L220.0,273.0 L221.0,268.0 L223.0,263.5 L224.5,259.5 L225.5,256.0 L229.0,254.0 L231.5,252.0 L235.0,252.5 L238.5,254.0 L242.0,256.5 L245.0,259.0 L247.5,261.5 L249.0,264.5 L251.5,266.0 L254.0,266.5 L255.5,269.0 L257.5,271.0 L260.0,272.0 M245.0,268.0 L247.5,266.5 L251.0,266.2 L250.5,269.0 L249.0,272.0 L247.5,275.5 L246.0,274.0 L245.5,271.0 L245.0,268.0 M241.5,271.5 L243.5,271.8 L244.0,273.5 L242.0,273.5 L241.5,271.5 M241.0,277.5 L243.0,277.2 L243.2,279.0 L241.2,279.0 L241.0,277.5 M225.0,286.5 L229.0,285.2 L233.0,282.9 L237.7,281.8 L242.4,280.5 L244.6,281.8 L245.1,286.5 L245.1,291.2 L243.1,295.2 L239.7,297.9 L237.7,299.9 L238.4,302.6 L242.4,303.9 L243.8,305.9 L241.8,310.0 L239.1,314.7 L237.1,318.7 L236.4,322.0 M239.7,255.0 L243.1,257.7 L246.4,261.0 L248.9,265.5 L251.8,266.4 L253.8,266.8 L252.9,269.7 L250.7,273.1 L248.6,275.8 L246.4,274.0 L245.1,270.4 L246.0,267.1 L248.9,265.5 M269.2,256.3 L265.2,257.0 L263.2,259.0 L265.2,260.4 L262.5,263.0 L258.5,264.4 L255.2,267.7 L256.5,271.1 L259.9,272.4 L263.9,271.8 L267.2,269.7 L267.9,265.7 L269.5,262.4 L272.6,261.0 L276.6,261.7 L279.3,264.4 L280.2,267.7 L278.6,270.8 L276.6,271.4 L275.9,273.5 L277.9,274.6 L280.0,273.2 L280.8,271.1 L279.3,275.1 L276.6,277.8 L274.6,281.8 L272.6,285.8 L269.9,289.2 L268.6,293.2 L265.9,297.2 L262.8,299.2 L260.7,296.8 L259.3,293.9 L257.4,296.6 L255.3,299.5 L253.2,300.6 L251.3,298.7 L249.9,295.2 L249.9,291.2 L251.3,287.2 L250.5,283.4 L251.3,279.9 L253.8,279.4 L255.8,282.5 L258.5,283.8 L261.9,283.2 L264.5,280.7 L263.9,278.6 L261.2,278.5 L260.1,280.5 L262.0,281.3 M282.6,263.0 L283.3,267.1 L285.3,269.1 L287.3,266.4 L286.7,262.4 L288.7,260.4 L292.0,261.0 L294.7,260.4 M290.0,263.0 L290.7,267.7 L294.7,269.7 L300.1,271.8 L305.4,273.8 L310.8,273.1 L314.8,271.1 L314.5,267.1 L312.1,263.0 L308.8,259.7 L304.1,257.7 L299.4,257.0 L295.4,258.4 L292.0,260.4 L290.0,263.0 M294.7,263.0 L298.7,264.4 L302.7,263.7 M304.1,261.7 L304.8,265.1 M306.1,275.1 L302.7,275.1 L300.1,272.7 L297.4,273.8 L294.7,276.4 L292.7,279.1 L292.0,282.5 L293.4,285.8 L290.7,289.9 L288.0,293.2 L284.0,297.9 L280.6,301.2 L278.6,303.9 L279.3,306.6 L282.0,305.9 L283.4,303.5 L282.4,301.9 M279.3,306.6 L274.6,308.6 L271.2,311.3 L268.6,315.3 L266.6,319.3 L265.2,322.0 M290.0,258.8 L294.0,257.4 L299.4,256.8 L304.7,257.4 L310.1,260.1 L313.5,264.1 L315.5,268.8 L314.8,273.5 L311.4,274.2 L307.4,272.8 L303.4,274.2 L299.4,272.8 L296.7,274.2 L293.4,276.9 L292.0,280.2 L292.7,284.9 L291.3,289.6 L290.0,291.6 M296.7,260.1 L300.7,258.8 L303.4,261.4 L302.7,265.5 M314.8,273.5 L316.1,278.9 L318.8,280.2 L322.2,278.9 L325.5,279.5 L328.2,282.9 L326.9,285.6 L324.9,286.2 L328.2,287.6 L330.2,289.6 L331.6,291.6 L328.9,293.6 L326.2,296.3 L324.2,300.3 L322.2,304.3 L320.8,307.0 M290.0,242.7 L294.0,244.0 L296.7,242.7 L294.7,246.0 L291.3,246.7 L290.0,242.7 M296.7,251.4 L300.1,250.1 L299.4,252.7 L296.7,253.4 L296.7,251.4 M345.6,297.6 L348.3,293.6 L351.0,291.6 L354.3,292.3 L355.7,295.0 L353.7,297.6 L355.0,300.3 L356.4,302.3 L354.3,303.0 L352.3,301.0 L351.7,304.3 L349.7,306.4 L347.6,303.7 L346.3,300.3 L345.6,297.6 M362.4,282.2 L364.4,281.6 L365.1,284.2 L363.1,284.9 L362.4,282.2 M370.4,258.1 L373.8,255.4 L377.1,252.7 L380.5,251.4 L381.2,254.1 L378.5,256.8 L375.8,259.4 L372.4,260.1 L370.4,258.1 M283.8,300.0 L283.2,303.4 L281.1,304.7 L279.1,303.8 L275.1,307.4 L271.1,310.7 L267.7,315.4 L265.1,320.8 L263.0,326.1 L263.7,330.2 L265.7,333.5 L267.1,336.2 L269.7,334.2 L273.1,332.2 L277.1,330.2 L281.1,328.2 L285.2,327.5 L289.2,328.8 L293.2,328.2 L297.2,326.8 L301.2,328.2 L305.9,327.5 L310.0,326.1 L311.3,324.1 L309.3,322.8 L310.0,320.8 L312.6,320.1 L314.0,317.4 L316.7,316.1 L318.0,313.4 L320.7,311.4 L321.4,308.0 L322.7,305.4 L324.0,302.0 L324.7,300.0 M303.9,338.9 L306.6,337.5 L308.6,339.5 L311.3,340.9 L314.7,340.2 L317.3,341.6 L318.0,344.9 L316.0,347.6 L312.6,348.9 L309.3,348.9 L305.9,347.6 L303.9,344.9 L302.6,342.2 L303.9,338.9 M324.9,299.2 L322.9,303.3 L321.8,305.3 L320.8,307.3 L319.9,309.3 L319.5,311.3 L317.5,314.7 L314.8,318.0 L312.1,320.7 L310.8,322.0 M370.0,201.0 L372.7,205.7 L376.0,210.4 L380.1,211.8 L382.1,210.4 L384.1,212.4 L388.1,215.1 L390.1,217.1 L387.4,220.5 L385.4,223.8 L386.8,227.8 L390.1,229.2 L392.1,232.5 L391.4,235.9 L392.8,238.6 L390.8,241.2 L386.8,241.9 L384.1,243.9 L382.7,247.3 L384.1,250.6 L387.4,252.6 L389.4,256.7 L390.8,262.0 M373.4,212.4 L376.0,213.1 L375.4,215.1 L373.4,214.8 L373.4,212.4 M370.0,216.4 L372.0,219.1 L372.7,222.5 L370.0,223.8 M370.0,258.0 L374.0,254.7 L378.0,251.3 L380.7,252.0 L379.4,255.3 L375.4,258.0 L371.3,259.3 L370.0,258.0 M388.1,255.0 L390.1,259.0 L393.5,263.0 L396.1,265.1 L396.8,269.1 L400.2,270.4 L402.8,270.8 L401.5,272.4 L400.2,275.1 L397.5,276.4 L402.2,277.1 L406.2,279.1 L410.2,280.5 L414.2,281.8 L416.9,283.8 L418.3,287.2 L416.2,285.2 L412.9,283.2 L408.9,281.8 L404.2,280.5 L400.2,279.8 L396.8,279.8 L395.5,281.8 L397.5,283.8 L400.2,286.5 L403.5,288.5 L407.5,287.8 L410.2,288.5 L407.5,290.5 L404.2,292.5 L402.2,295.2 L402.8,298.6 L401.5,301.9 L400.2,305.3 L398.8,308.6 L398.8,312.6 L397.5,315.3 L396.1,317.3 L393.5,314.7 L391.4,316.0 L393.5,318.7 L396.8,318.0 M382.7,278.5 L384.1,279.1 L384.7,284.5 L386.8,291.2 L389.4,295.9 L392.8,298.6 L396.1,297.9 L394.1,300.6 L390.8,301.9 L388.1,299.2 L385.4,294.5 L383.4,288.5 L382.1,283.2 L382.7,278.5 M370.0,320.0 L375.4,321.4 L382.1,320.7 L388.8,320.4 L391.4,322.0 M345.7,297.0 L348.4,295.7 L351.8,296.3 L355.1,299.0 L356.4,301.0 L354.4,302.4 L353.1,301.0 L351.8,303.7 L351.1,306.4 L349.1,304.4 L347.1,301.7 L345.7,299.0 L345.7,297.0 M347.1,362.0 L347.7,358.0 L351.1,354.0 L354.4,348.6 L356.4,343.3 L358.5,336.6 L360.5,331.2 L363.2,327.2 L366.5,323.2 L369.9,320.5 L373.2,319.8 L375.2,322.5 L377.2,321.1 L381.2,320.5 L385.9,320.2 L390.0,320.5 L393.3,321.8 L394.0,325.2 L391.3,327.2 L387.9,327.8 L384.6,329.9 L387.9,331.2 L390.0,333.2 L393.3,333.9 L392.6,331.2 L396.0,329.2 L394.7,325.8 L394.0,322.5 L395.3,319.8 L397.3,317.8 L394.0,317.1 L391.3,316.4 L393.3,315.1 L396.7,315.1 L398.7,316.4 L398.0,313.8 L397.3,310.4 L399.3,307.7 L398.7,305.1 L401.4,303.0 L404.0,300.4 L404.7,297.7 L402.0,295.0 M386.6,295.0 L388.6,299.0 L391.3,301.7 L394.7,300.4 L396.7,297.7 L397.3,295.0 M383.9,362.0 L382.6,360.7 L381.9,358.0 L385.9,356.0 L388.6,354.0 L387.9,352.0 L384.6,353.3 L381.2,356.0 L378.6,356.7 L375.9,354.7 L373.9,351.3 L373.2,347.3 L374.9,343.3 L375.2,339.2 L373.2,338.6 L371.2,339.9 L370.5,343.9 L369.2,347.9 L367.8,352.6 L368.2,357.3 L370.1,360.7 L370.5,362.0 M327.5,371.4 L329.5,368.7 L332.2,369.4 L332.9,372.1 L334.2,371.4 L333.6,374.7 L334.9,378.1 L336.9,382.1 L339.6,385.5 L341.6,388.1 L340.9,390.2 L337.6,391.5 L333.6,392.2 L330.2,392.8 L326.9,394.2 L325.5,392.8 L328.2,391.5 L328.9,389.5 L327.5,387.5 L329.5,386.1 L330.2,383.4 L328.2,380.8 L328.9,377.4 L326.9,374.7 L327.5,371.4 M317.5,383.4 L320.2,380.1 L323.5,378.8 L326.2,380.1 L326.5,383.4 L324.9,386.1 L321.5,387.5 L318.2,388.1 L316.1,386.8 L317.5,383.4 M347.6,362.0 L349.7,366.0 L352.3,368.7 L355.0,368.0 L357.7,365.4 L359.7,363.3 L361.0,362.0 M361.0,362.0 L362.4,366.0 L363.7,370.0 L365.1,373.4 L365.1,376.7 L362.4,379.4 L358.4,381.4 L354.3,382.8 L350.3,384.8 L347.6,387.5 L345.0,390.8 L341.6,393.5 L337.6,395.5 L334.2,397.5 L330.2,397.9 L328.2,399.5 L330.2,401.5 L332.9,403.6 L334.9,406.2 L334.9,410.3 L332.9,411.6 L328.9,410.9 L323.5,410.3 L318.2,409.6 L314.8,410.9 L314.1,415.6 L312.8,419.6 L312.1,423.0 L314.1,425.7 L316.1,429.0 M355.7,372.7 L357.0,370.7 L359.0,372.1 L359.7,375.4 L361.7,378.1 L363.1,376.1 L362.4,373.4 M330.2,429.0 L334.2,426.3 L337.6,423.0 L340.3,419.6 L343.6,417.0 L347.0,413.6 L350.3,412.3 L354.3,410.9 L358.4,409.6 L361.7,408.9 M365.1,376.7 L367.7,374.7 L370.4,371.4 L370.4,367.4 L372.4,364.0 L373.8,362.0 M314.3,410.0 L315.0,414.0 L313.0,418.0 L311.7,421.4 L313.0,424.7 L316.4,426.1 L319.7,426.8 L322.4,428.8 L325.7,427.4 L330.4,427.4 L335.1,425.4 L337.8,422.7 L339.8,419.4 L342.5,416.7 L346.5,414.7 L349.2,412.7 L350.5,412.0 M322.4,428.8 L318.4,430.8 L313.7,432.8 L310.3,434.8 L308.3,437.5 L305.6,439.5 L300.9,440.2 L295.6,441.5 L290.2,443.5 L285.5,444.9 L282.2,446.2 L281.5,448.9 L282.2,450.9 L280.2,452.9 L277.5,452.9 L278.8,454.9 L280.8,456.9 L284.9,459.6 L290.2,462.3 L295.6,464.3 L300.9,465.6 M322.4,428.8 L326.4,430.1 L331.1,430.8 L335.8,429.4 L341.2,428.1 L346.5,427.2 L350.5,426.8 M345.0,427.1 L350.4,426.4 L357.1,425.1 L363.8,424.4 L368.5,425.1 L370.5,427.1 L369.1,429.8 L371.1,431.8 L375.8,431.1 L381.2,430.5 L385.2,431.8 L389.2,431.1 L393.9,430.5 L397.9,429.1 L399.3,426.4 L401.3,424.4 L405.3,423.1 L410.7,421.8 L416.0,419.7 L421.4,417.7 L425.4,416.4 L430.8,413.7 L434.8,411.7 L438.8,410.4 L441.5,408.4 M406.0,415.1 L409.3,414.1 L413.4,413.7 L413.6,414.7 L410.0,415.7 L406.7,416.4 L406.0,415.1 M411.0,384.0 L413.5,382.5 L416.5,382.0 L418.5,381.5 L419.5,383.5 L421.5,382.0 L422.0,380.0 L421.0,378.0 L423.5,375.5 L426.0,372.5 L427.5,370.5 L428.0,372.0 L427.0,375.0 L425.0,378.0 L428.0,377.5 L431.5,376.5 L435.0,375.8 L439.0,375.0 L441.2,376.0 L441.5,378.5 L440.0,381.0 L437.5,383.0 L434.5,384.5 L431.0,386.0 L427.5,387.5 L424.5,389.5 L422.0,391.5 L419.5,394.0 L417.0,396.0 L414.0,397.5 L411.5,398.5 L409.5,397.0 L409.5,394.0 L410.0,390.5 L410.5,387.0 L411.0,384.0 M411.5,398.5 L410.5,401.0 M399.0,407.0 L402.0,404.0 L406.0,402.5 L409.5,402.5 L410.5,404.5 L412.5,406.5 L415.5,408.0 L419.0,407.5 L422.5,406.0 L425.0,404.5 L428.0,403.5 L431.0,401.0 L434.0,398.0 L436.5,395.5 L438.5,398.0 M429.5,404.5 L431.0,402.0 L433.5,400.2 L434.0,401.5 L432.5,403.5 L430.5,405.0 L429.5,404.5 M399.0,407.0 L400.5,409.5 L402.5,410.5 L404.5,409.0 L405.0,412.0 L403.5,414.0 M361.7,408.9 L365.0,408.5 L368.0,411.0 L372.5,413.5 L378.0,414.5 L383.0,414.7 L385.0,415.0 L385.2,416.2 L383.8,417.0 L384.5,415.5 L386.0,414.0 L388.0,412.5 L389.2,411.5 L386.0,411.0 L382.0,410.0 L378.0,408.5 L374.0,407.0 L371.0,405.5 L369.8,404.0 L370.5,402.5 L373.5,402.5 L377.0,404.0 L381.0,405.5 L386.0,406.5 L390.0,407.0 L391.0,408.0 L394.0,410.0 L397.0,412.5 L399.0,414.5 L402.0,415.0 L403.5,413.5 L403.0,411.0 L401.5,409.0 L400.0,407.5 L402.0,405.5 L405.0,403.5 L408.0,402.5 L410.0,401.0 L413.0,398.8 L411.0,396.0 L410.0,393.0 L409.5,390.0 M374.0,421.0 L378.0,420.0 L382.0,419.5 L383.0,421.0 L382.0,422.5 L378.0,422.5 L374.5,422.2 L374.0,421.0 M361.5,416.2 L363.5,415.8 L365.0,417.5 L364.8,420.0 L363.0,420.8 L361.2,419.8 L361.0,417.8 L361.5,416.2 M361.8,411.8 L363.2,411.5 L363.6,413.5 L362.4,414.5 L361.6,413.2 L361.8,411.8 M365.0,214.0 L368.0,213.0 L370.0,216.0 L373.0,219.0 L374.0,222.0 L371.0,223.0 L368.0,220.0 L365.4,217.0 L365.0,214.0 M372.0,213.0 L376.0,212.0 L377.0,215.0 L374.0,216.0 L372.0,213.0 M255.0,82.6 L258.0,81.6 L262.0,81.8 L266.0,81.0 M270.6,80.2 L272.0,79.8" fill="none" stroke="#000" stroke-width="1.39" stroke-linejoin="round" stroke-linecap="butt"/>
</g>
<circle cx="885.5" cy="260.5" r="208.4" fill="none" stroke="#000" stroke-width="1.11"/>
<path d="M704,323 L706,323 L707.5,340 L705.5,340Z" fill="#d1d5e9"/>
<rect x="18.5" y="51.50" width="21" height="420.00" fill="#ff0000"/>
<rect x="18.5" y="75.72" width="21" height="395.78" fill="#fd2102"/>
<rect x="18.5" y="103.88" width="21" height="367.62" fill="#fc4203"/>
<rect x="18.5" y="132.04" width="21" height="339.46" fill="#fa6305"/>
<rect x="18.5" y="160.20" width="21" height="311.30" fill="#f98307"/>
<rect x="18.5" y="188.36" width="21" height="283.14" fill="#f7a409"/>
<rect x="18.5" y="216.52" width="21" height="254.98" fill="#f6c50a"/>
<rect x="18.5" y="244.68" width="21" height="226.82" fill="#f4e60c"/>
<rect x="18.5" y="272.84" width="21" height="198.66" fill="#d8d03a"/>
<rect x="18.5" y="301.00" width="21" height="170.50" fill="#bcbb68"/>
<rect x="18.5" y="329.16" width="21" height="142.34" fill="#a0a696"/>
<rect x="18.5" y="357.32" width="21" height="114.18" fill="#8490c4"/>
<rect x="18.5" y="385.48" width="21" height="86.02" fill="#a6acd6"/>
<rect x="18.5" y="413.64" width="21" height="57.86" fill="#d1d5e9"/>
<rect x="18.5" y="441.80" width="21" height="29.70" fill="#ffffff"/>
<rect x="18.5" y="51.5" width="21" height="420.0" fill="none" stroke="#000" stroke-width="1"/>
<line x1="39.5" y1="471.5" x2="44.36" y2="471.5" stroke="#000" stroke-width="1"/>
<text x="49.0" y="476.7" class="t10">0.00</text>
<line x1="39.5" y1="419.0" x2="44.36" y2="419.0" stroke="#000" stroke-width="1"/>
<text x="49.0" y="424.2" class="t10">0.25</text>
<line x1="39.5" y1="366.5" x2="44.36" y2="366.5" stroke="#000" stroke-width="1"/>
<text x="49.0" y="371.7" class="t10">0.50</text>
<line x1="39.5" y1="314.0" x2="44.36" y2="314.0" stroke="#000" stroke-width="1"/>
<text x="49.0" y="319.2" class="t10">0.75</text>
<line x1="39.5" y1="261.5" x2="44.36" y2="261.5" stroke="#000" stroke-width="1"/>
<text x="49.0" y="266.7" class="t10">1.00</text>
<line x1="39.5" y1="209.0" x2="44.36" y2="209.0" stroke="#000" stroke-width="1"/>
<text x="49.0" y="214.2" class="t10">1.25</text>
<line x1="39.5" y1="156.5" x2="44.36" y2="156.5" stroke="#000" stroke-width="1"/>
<text x="49.0" y="161.7" class="t10">1.50</text>
<line x1="39.5" y1="104.0" x2="44.36" y2="104.0" stroke="#000" stroke-width="1"/>
<text x="49.0" y="109.2" class="t10">1.75</text>
<line x1="39.5" y1="51.5" x2="44.36" y2="51.5" stroke="#000" stroke-width="1"/>
<text x="49.0" y="56.7" class="t10">2.00</text>
<text transform="translate(96.0,261.8) rotate(-90)" text-anchor="middle" class="t10">aod550</text>
<rect x="565.5" y="51.50" width="21" height="420.00" fill="#ff0000"/>
<rect x="565.5" y="75.72" width="21" height="395.78" fill="#fd2102"/>
<rect x="565.5" y="103.88" width="21" height="367.62" fill="#fc4203"/>
<rect x="565.5" y="132.04" width="21" height="339.46" fill="#fa6305"/>
<rect x="565.5" y="160.20" width="21" height="311.30" fill="#f98307"/>
<rect x="565.5" y="188.36" width="21" height="283.14" fill="#f7a409"/>
<rect x="565.5" y="216.52" width="21" height="254.98" fill="#f6c50a"/>
<rect x="565.5" y="244.68" width="21" height="226.82" fill="#f4e60c"/>
<rect x="565.5" y="272.84" width="21" height="198.66" fill="#d8d03a"/>
<rect x="565.5" y="301.00" width="21" height="170.50" fill="#bcbb68"/>
<rect x="565.5" y="329.16" width="21" height="142.34" fill="#a0a696"/>
<rect x="565.5" y="357.32" width="21" height="114.18" fill="#8490c4"/>
<rect x="565.5" y="385.48" width="21" height="86.02" fill="#a6acd6"/>
<rect x="565.5" y="413.64" width="21" height="57.86" fill="#d1d5e9"/>
<rect x="565.5" y="441.80" width="21" height="29.70" fill="#ffffff"/>
<rect x="565.5" y="51.5" width="21" height="420.0" fill="none" stroke="#000" stroke-width="1"/>
<line x1="586.5" y1="471.5" x2="591.36" y2="471.5" stroke="#000" stroke-width="1"/>
<text x="596.0" y="476.7" class="t10">0.00</text>
<line x1="586.5" y1="419.0" x2="591.36" y2="419.0" stroke="#000" stroke-width="1"/>
<text x="596.0" y="424.2" class="t10">0.25</text>
<line x1="586.5" y1="366.5" x2="591.36" y2="366.5" stroke="#000" stroke-width="1"/>
<text x="596.0" y="371.7" class="t10">0.50</text>
<line x1="586.5" y1="314.0" x2="591.36" y2="314.0" stroke="#000" stroke-width="1"/>
<text x="596.0" y="319.2" class="t10">0.75</text>
<line x1="586.5" y1="261.5" x2="591.36" y2="261.5" stroke="#000" stroke-width="1"/>
<text x="596.0" y="266.7" class="t10">1.00</text>
<line x1="586.5" y1="209.0" x2="591.36" y2="209.0" stroke="#000" stroke-width="1"/>
<text x="596.0" y="214.2" class="t10">1.25</text>
<line x1="586.5" y1="156.5" x2="591.36" y2="156.5" stroke="#000" stroke-width="1"/>
<text x="596.0" y="161.7" class="t10">1.50</text>
<line x1="586.5" y1="104.0" x2="591.36" y2="104.0" stroke="#000" stroke-width="1"/>
<text x="596.0" y="109.2" class="t10">1.75</text>
<line x1="586.5" y1="51.5" x2="591.36" y2="51.5" stroke="#000" stroke-width="1"/>
<text x="596.0" y="56.7" class="t10">2.00</text>
<text transform="translate(643.0,261.8) rotate(-90)" text-anchor="middle" class="t10">omaod550</text>
</svg>
</body></html>
